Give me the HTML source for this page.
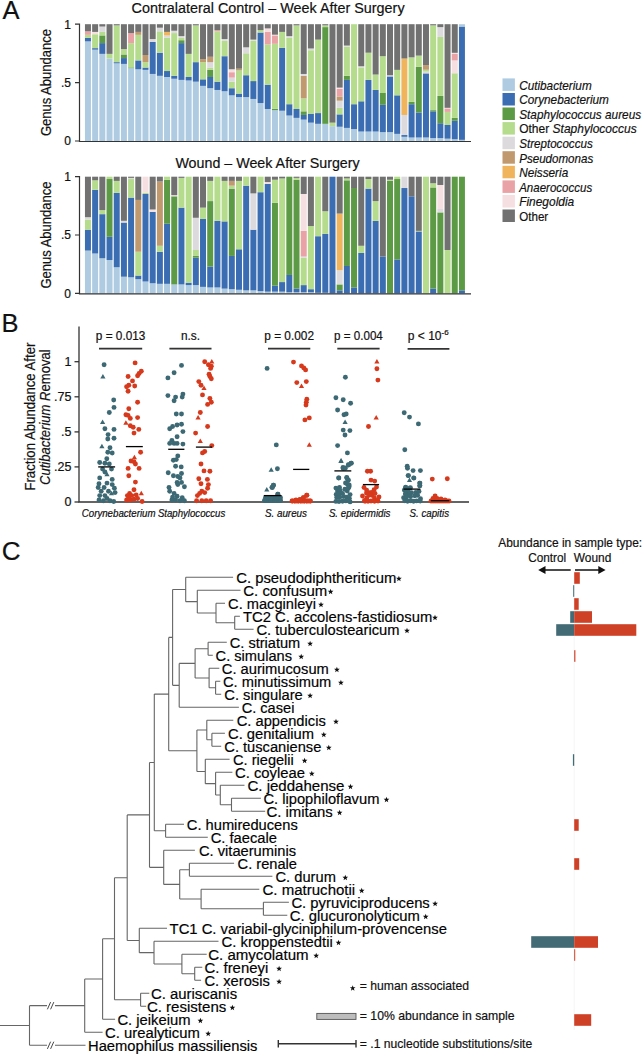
<!DOCTYPE html><html><head><meta charset="utf-8"><style>html,body{margin:0;padding:0;background:#fff;} svg{display:block;} text{font-family:"Liberation Sans", sans-serif;stroke:#111;stroke-width:0.2px;}</style></head><body>
<svg width="643" height="1055" viewBox="0 0 643 1055">
<rect width="643" height="1055" fill="#fff"/>
<text x="2.60" y="19.00" font-size="25.5" text-anchor="start" fill="#111" >A</text>
<text x="131.60" y="13.10" font-size="15.2" text-anchor="start" textLength="273.0" lengthAdjust="spacingAndGlyphs" fill="#111" >Contralateral Control – Week After Surgery</text>
<text x="175.40" y="167.80" font-size="15.2" text-anchor="start" textLength="184.3" lengthAdjust="spacingAndGlyphs" fill="#111" >Wound – Week After Surgery</text>
<rect x="84.95" y="41.37" width="6.0" height="99.63" fill="#aecbe1"/>
<rect x="84.95" y="37.87" width="6.0" height="3.50" fill="#3b6db3"/>
<rect x="84.95" y="34.83" width="6.0" height="3.04" fill="#b5dc8c"/>
<rect x="84.95" y="31.32" width="6.0" height="3.50" fill="#e9a2a5"/>
<rect x="84.95" y="24.20" width="6.0" height="7.12" fill="#717171"/>
<rect x="92.14" y="49.66" width="6.0" height="91.34" fill="#aecbe1"/>
<rect x="92.14" y="48.14" width="6.0" height="1.52" fill="#3b6db3"/>
<rect x="92.14" y="34.24" width="6.0" height="13.90" fill="#b5dc8c"/>
<rect x="92.14" y="31.91" width="6.0" height="2.34" fill="#f6dfe0"/>
<rect x="92.14" y="24.20" width="6.0" height="7.71" fill="#717171"/>
<rect x="99.33" y="53.87" width="6.0" height="87.13" fill="#aecbe1"/>
<rect x="99.33" y="43.12" width="6.0" height="10.75" fill="#3b6db3"/>
<rect x="99.33" y="35.41" width="6.0" height="7.71" fill="#5c9a45"/>
<rect x="99.33" y="31.91" width="6.0" height="3.50" fill="#b5dc8c"/>
<rect x="99.33" y="26.54" width="6.0" height="5.37" fill="#dcdadc"/>
<rect x="99.33" y="24.20" width="6.0" height="2.34" fill="#717171"/>
<rect x="106.53" y="58.54" width="6.0" height="82.46" fill="#aecbe1"/>
<rect x="106.53" y="53.87" width="6.0" height="4.67" fill="#b5dc8c"/>
<rect x="106.53" y="24.20" width="6.0" height="29.67" fill="#717171"/>
<rect x="113.72" y="63.33" width="6.0" height="77.67" fill="#aecbe1"/>
<rect x="113.72" y="62.16" width="6.0" height="1.17" fill="#3b6db3"/>
<rect x="113.72" y="25.37" width="6.0" height="36.79" fill="#b5dc8c"/>
<rect x="113.72" y="24.20" width="6.0" height="1.17" fill="#717171"/>
<rect x="120.91" y="63.91" width="6.0" height="77.09" fill="#aecbe1"/>
<rect x="120.91" y="58.07" width="6.0" height="5.84" fill="#3b6db3"/>
<rect x="120.91" y="54.45" width="6.0" height="3.62" fill="#5c9a45"/>
<rect x="120.91" y="49.08" width="6.0" height="5.37" fill="#b5dc8c"/>
<rect x="120.91" y="24.20" width="6.0" height="24.88" fill="#717171"/>
<rect x="128.10" y="68.12" width="6.0" height="72.88" fill="#aecbe1"/>
<rect x="128.10" y="67.42" width="6.0" height="0.70" fill="#5c9a45"/>
<rect x="128.10" y="43.12" width="6.0" height="24.29" fill="#b5dc8c"/>
<rect x="128.10" y="33.08" width="6.0" height="10.04" fill="#e9a2a5"/>
<rect x="128.10" y="24.20" width="6.0" height="8.88" fill="#717171"/>
<rect x="135.29" y="69.28" width="6.0" height="71.72" fill="#aecbe1"/>
<rect x="135.29" y="60.41" width="6.0" height="8.88" fill="#3b6db3"/>
<rect x="135.29" y="34.83" width="6.0" height="25.58" fill="#b5dc8c"/>
<rect x="135.29" y="31.91" width="6.0" height="2.92" fill="#c09a6e"/>
<rect x="135.29" y="24.20" width="6.0" height="7.71" fill="#717171"/>
<rect x="142.49" y="69.87" width="6.0" height="71.13" fill="#aecbe1"/>
<rect x="142.49" y="67.53" width="6.0" height="2.34" fill="#3b6db3"/>
<rect x="142.49" y="62.16" width="6.0" height="5.37" fill="#b5dc8c"/>
<rect x="142.49" y="55.04" width="6.0" height="7.12" fill="#c09a6e"/>
<rect x="142.49" y="24.20" width="6.0" height="30.84" fill="#717171"/>
<rect x="149.68" y="73.96" width="6.0" height="67.04" fill="#aecbe1"/>
<rect x="149.68" y="41.95" width="6.0" height="32.00" fill="#3b6db3"/>
<rect x="149.68" y="39.03" width="6.0" height="2.92" fill="#dcdadc"/>
<rect x="149.68" y="24.20" width="6.0" height="14.83" fill="#717171"/>
<rect x="156.87" y="75.83" width="6.0" height="65.17" fill="#aecbe1"/>
<rect x="156.87" y="52.70" width="6.0" height="23.13" fill="#3b6db3"/>
<rect x="156.87" y="31.32" width="6.0" height="21.37" fill="#b5dc8c"/>
<rect x="156.87" y="27.70" width="6.0" height="3.62" fill="#dcdadc"/>
<rect x="156.87" y="24.20" width="6.0" height="3.50" fill="#717171"/>
<rect x="164.06" y="76.99" width="6.0" height="64.01" fill="#aecbe1"/>
<rect x="164.06" y="71.04" width="6.0" height="5.96" fill="#3b6db3"/>
<rect x="164.06" y="37.87" width="6.0" height="33.17" fill="#b5dc8c"/>
<rect x="164.06" y="35.41" width="6.0" height="2.45" fill="#dcdadc"/>
<rect x="164.06" y="31.91" width="6.0" height="3.50" fill="#efb45c"/>
<rect x="164.06" y="24.20" width="6.0" height="7.71" fill="#717171"/>
<rect x="171.25" y="78.75" width="6.0" height="62.25" fill="#aecbe1"/>
<rect x="171.25" y="75.83" width="6.0" height="2.92" fill="#3b6db3"/>
<rect x="171.25" y="33.08" width="6.0" height="42.75" fill="#b5dc8c"/>
<rect x="171.25" y="30.74" width="6.0" height="2.34" fill="#dcdadc"/>
<rect x="171.25" y="24.20" width="6.0" height="6.54" fill="#717171"/>
<rect x="178.45" y="79.91" width="6.0" height="61.09" fill="#aecbe1"/>
<rect x="178.45" y="43.12" width="6.0" height="36.79" fill="#3b6db3"/>
<rect x="178.45" y="40.20" width="6.0" height="2.92" fill="#5c9a45"/>
<rect x="178.45" y="37.87" width="6.0" height="2.34" fill="#b5dc8c"/>
<rect x="178.45" y="36.11" width="6.0" height="1.75" fill="#dcdadc"/>
<rect x="178.45" y="24.20" width="6.0" height="11.91" fill="#717171"/>
<rect x="185.64" y="80.50" width="6.0" height="60.50" fill="#aecbe1"/>
<rect x="185.64" y="76.99" width="6.0" height="3.50" fill="#3b6db3"/>
<rect x="185.64" y="53.87" width="6.0" height="23.13" fill="#b5dc8c"/>
<rect x="185.64" y="24.20" width="6.0" height="29.67" fill="#717171"/>
<rect x="192.83" y="81.67" width="6.0" height="59.33" fill="#aecbe1"/>
<rect x="192.83" y="62.16" width="6.0" height="19.51" fill="#3b6db3"/>
<rect x="192.83" y="25.37" width="6.0" height="36.79" fill="#b5dc8c"/>
<rect x="192.83" y="24.20" width="6.0" height="1.17" fill="#717171"/>
<rect x="200.02" y="85.87" width="6.0" height="55.13" fill="#aecbe1"/>
<rect x="200.02" y="79.33" width="6.0" height="6.54" fill="#3b6db3"/>
<rect x="200.02" y="62.16" width="6.0" height="17.17" fill="#b5dc8c"/>
<rect x="200.02" y="59.12" width="6.0" height="3.04" fill="#c09a6e"/>
<rect x="200.02" y="24.20" width="6.0" height="34.92" fill="#717171"/>
<rect x="207.21" y="88.21" width="6.0" height="52.79" fill="#aecbe1"/>
<rect x="207.21" y="76.99" width="6.0" height="11.21" fill="#3b6db3"/>
<rect x="207.21" y="69.87" width="6.0" height="7.12" fill="#5c9a45"/>
<rect x="207.21" y="67.53" width="6.0" height="2.34" fill="#b5dc8c"/>
<rect x="207.21" y="62.16" width="6.0" height="5.37" fill="#dcdadc"/>
<rect x="207.21" y="56.79" width="6.0" height="5.37" fill="#c09a6e"/>
<rect x="207.21" y="24.20" width="6.0" height="32.59" fill="#717171"/>
<rect x="214.41" y="89.96" width="6.0" height="51.04" fill="#aecbe1"/>
<rect x="214.41" y="81.67" width="6.0" height="8.29" fill="#3b6db3"/>
<rect x="214.41" y="31.32" width="6.0" height="50.34" fill="#b5dc8c"/>
<rect x="214.41" y="30.16" width="6.0" height="1.17" fill="#e9a2a5"/>
<rect x="214.41" y="24.20" width="6.0" height="5.96" fill="#717171"/>
<rect x="221.60" y="91.24" width="6.0" height="49.76" fill="#aecbe1"/>
<rect x="221.60" y="56.20" width="6.0" height="35.04" fill="#3b6db3"/>
<rect x="221.60" y="40.79" width="6.0" height="15.42" fill="#b5dc8c"/>
<rect x="221.60" y="39.03" width="6.0" height="1.75" fill="#dcdadc"/>
<rect x="221.60" y="24.20" width="6.0" height="14.83" fill="#717171"/>
<rect x="228.79" y="95.33" width="6.0" height="45.67" fill="#aecbe1"/>
<rect x="228.79" y="88.21" width="6.0" height="7.12" fill="#3b6db3"/>
<rect x="228.79" y="81.67" width="6.0" height="6.54" fill="#b5dc8c"/>
<rect x="228.79" y="77.58" width="6.0" height="4.09" fill="#dcdadc"/>
<rect x="228.79" y="72.20" width="6.0" height="5.37" fill="#e9a2a5"/>
<rect x="228.79" y="69.28" width="6.0" height="2.92" fill="#f6dfe0"/>
<rect x="228.79" y="24.20" width="6.0" height="45.08" fill="#717171"/>
<rect x="235.98" y="97.08" width="6.0" height="43.92" fill="#aecbe1"/>
<rect x="235.98" y="93.58" width="6.0" height="3.50" fill="#3b6db3"/>
<rect x="235.98" y="70.45" width="6.0" height="23.13" fill="#b5dc8c"/>
<rect x="235.98" y="68.70" width="6.0" height="1.75" fill="#c09a6e"/>
<rect x="235.98" y="24.20" width="6.0" height="44.50" fill="#717171"/>
<rect x="243.17" y="97.08" width="6.0" height="43.92" fill="#aecbe1"/>
<rect x="243.17" y="75.24" width="6.0" height="21.84" fill="#3b6db3"/>
<rect x="243.17" y="53.28" width="6.0" height="21.96" fill="#b5dc8c"/>
<rect x="243.17" y="47.33" width="6.0" height="5.96" fill="#dcdadc"/>
<rect x="243.17" y="24.20" width="6.0" height="23.13" fill="#717171"/>
<rect x="250.37" y="98.95" width="6.0" height="42.05" fill="#aecbe1"/>
<rect x="250.37" y="81.08" width="6.0" height="17.87" fill="#3b6db3"/>
<rect x="250.37" y="40.79" width="6.0" height="40.30" fill="#b5dc8c"/>
<rect x="250.37" y="39.62" width="6.0" height="1.17" fill="#dcdadc"/>
<rect x="250.37" y="24.20" width="6.0" height="15.42" fill="#717171"/>
<rect x="257.56" y="103.04" width="6.0" height="37.96" fill="#aecbe1"/>
<rect x="257.56" y="32.49" width="6.0" height="70.55" fill="#3b6db3"/>
<rect x="257.56" y="30.16" width="6.0" height="2.34" fill="#b5dc8c"/>
<rect x="257.56" y="24.20" width="6.0" height="5.96" fill="#717171"/>
<rect x="264.75" y="109.00" width="6.0" height="32.00" fill="#aecbe1"/>
<rect x="264.75" y="84.70" width="6.0" height="24.29" fill="#3b6db3"/>
<rect x="264.75" y="44.41" width="6.0" height="40.30" fill="#b5dc8c"/>
<rect x="264.75" y="31.91" width="6.0" height="12.50" fill="#e9a2a5"/>
<rect x="264.75" y="28.40" width="6.0" height="3.50" fill="#f6dfe0"/>
<rect x="264.75" y="24.20" width="6.0" height="4.20" fill="#717171"/>
<rect x="271.94" y="110.16" width="6.0" height="30.84" fill="#aecbe1"/>
<rect x="271.94" y="108.76" width="6.0" height="1.40" fill="#5c9a45"/>
<rect x="271.94" y="43.82" width="6.0" height="64.94" fill="#b5dc8c"/>
<rect x="271.94" y="35.41" width="6.0" height="8.41" fill="#e9a2a5"/>
<rect x="271.94" y="34.71" width="6.0" height="0.70" fill="#f6dfe0"/>
<rect x="271.94" y="24.20" width="6.0" height="10.51" fill="#717171"/>
<rect x="279.13" y="110.75" width="6.0" height="30.25" fill="#aecbe1"/>
<rect x="279.13" y="47.91" width="6.0" height="62.84" fill="#3b6db3"/>
<rect x="279.13" y="31.91" width="6.0" height="16.00" fill="#b5dc8c"/>
<rect x="279.13" y="24.20" width="6.0" height="7.71" fill="#717171"/>
<rect x="286.33" y="115.54" width="6.0" height="25.46" fill="#aecbe1"/>
<rect x="286.33" y="104.21" width="6.0" height="11.33" fill="#3b6db3"/>
<rect x="286.33" y="37.87" width="6.0" height="66.34" fill="#b5dc8c"/>
<rect x="286.33" y="36.11" width="6.0" height="1.75" fill="#dcdadc"/>
<rect x="286.33" y="24.20" width="6.0" height="11.91" fill="#717171"/>
<rect x="293.52" y="117.87" width="6.0" height="23.13" fill="#aecbe1"/>
<rect x="293.52" y="109.00" width="6.0" height="8.88" fill="#3b6db3"/>
<rect x="293.52" y="25.37" width="6.0" height="83.63" fill="#b5dc8c"/>
<rect x="293.52" y="24.20" width="6.0" height="1.17" fill="#717171"/>
<rect x="300.71" y="119.63" width="6.0" height="21.37" fill="#aecbe1"/>
<rect x="300.71" y="114.95" width="6.0" height="4.67" fill="#3b6db3"/>
<rect x="300.71" y="111.33" width="6.0" height="3.62" fill="#5c9a45"/>
<rect x="300.71" y="98.37" width="6.0" height="12.96" fill="#b5dc8c"/>
<rect x="300.71" y="75.83" width="6.0" height="22.54" fill="#c09a6e"/>
<rect x="300.71" y="73.96" width="6.0" height="1.87" fill="#dcdadc"/>
<rect x="300.71" y="24.20" width="6.0" height="49.76" fill="#717171"/>
<rect x="307.90" y="122.66" width="6.0" height="18.34" fill="#aecbe1"/>
<rect x="307.90" y="113.67" width="6.0" height="8.99" fill="#3b6db3"/>
<rect x="307.90" y="50.25" width="6.0" height="63.42" fill="#b5dc8c"/>
<rect x="307.90" y="48.49" width="6.0" height="1.75" fill="#dcdadc"/>
<rect x="307.90" y="24.20" width="6.0" height="24.29" fill="#717171"/>
<rect x="315.09" y="123.83" width="6.0" height="17.17" fill="#aecbe1"/>
<rect x="315.09" y="113.08" width="6.0" height="10.75" fill="#3b6db3"/>
<rect x="315.09" y="39.62" width="6.0" height="73.47" fill="#b5dc8c"/>
<rect x="315.09" y="24.20" width="6.0" height="15.42" fill="#717171"/>
<rect x="322.29" y="123.83" width="6.0" height="17.17" fill="#aecbe1"/>
<rect x="322.29" y="27.12" width="6.0" height="96.71" fill="#5c9a45"/>
<rect x="322.29" y="25.37" width="6.0" height="1.75" fill="#b5dc8c"/>
<rect x="322.29" y="24.20" width="6.0" height="1.17" fill="#717171"/>
<rect x="329.48" y="126.17" width="6.0" height="14.83" fill="#aecbe1"/>
<rect x="329.48" y="122.66" width="6.0" height="3.50" fill="#b5dc8c"/>
<rect x="329.48" y="24.20" width="6.0" height="98.46" fill="#717171"/>
<rect x="336.67" y="126.75" width="6.0" height="14.25" fill="#aecbe1"/>
<rect x="336.67" y="114.37" width="6.0" height="12.38" fill="#3b6db3"/>
<rect x="336.67" y="107.83" width="6.0" height="6.54" fill="#b5dc8c"/>
<rect x="336.67" y="100.70" width="6.0" height="7.12" fill="#dcdadc"/>
<rect x="336.67" y="96.50" width="6.0" height="4.20" fill="#c09a6e"/>
<rect x="336.67" y="88.79" width="6.0" height="7.71" fill="#e9a2a5"/>
<rect x="336.67" y="87.62" width="6.0" height="1.17" fill="#f6dfe0"/>
<rect x="336.67" y="24.20" width="6.0" height="63.42" fill="#717171"/>
<rect x="343.86" y="127.92" width="6.0" height="13.08" fill="#aecbe1"/>
<rect x="343.86" y="79.91" width="6.0" height="48.00" fill="#3b6db3"/>
<rect x="343.86" y="75.83" width="6.0" height="4.09" fill="#5c9a45"/>
<rect x="343.86" y="46.74" width="6.0" height="29.08" fill="#b5dc8c"/>
<rect x="343.86" y="45.57" width="6.0" height="1.17" fill="#dcdadc"/>
<rect x="343.86" y="24.20" width="6.0" height="21.37" fill="#717171"/>
<rect x="351.05" y="129.09" width="6.0" height="11.91" fill="#aecbe1"/>
<rect x="351.05" y="104.21" width="6.0" height="24.88" fill="#3b6db3"/>
<rect x="351.05" y="24.20" width="6.0" height="80.01" fill="#b5dc8c"/>
<rect x="358.25" y="131.54" width="6.0" height="9.46" fill="#aecbe1"/>
<rect x="358.25" y="101.29" width="6.0" height="30.25" fill="#3b6db3"/>
<rect x="358.25" y="67.42" width="6.0" height="33.87" fill="#b5dc8c"/>
<rect x="358.25" y="66.25" width="6.0" height="1.17" fill="#dcdadc"/>
<rect x="358.25" y="24.20" width="6.0" height="42.05" fill="#717171"/>
<rect x="365.44" y="131.54" width="6.0" height="9.46" fill="#aecbe1"/>
<rect x="365.44" y="79.91" width="6.0" height="51.63" fill="#3b6db3"/>
<rect x="365.44" y="52.70" width="6.0" height="27.21" fill="#b5dc8c"/>
<rect x="365.44" y="24.20" width="6.0" height="28.50" fill="#717171"/>
<rect x="372.63" y="131.54" width="6.0" height="9.46" fill="#aecbe1"/>
<rect x="372.63" y="89.96" width="6.0" height="41.58" fill="#3b6db3"/>
<rect x="372.63" y="74.54" width="6.0" height="15.42" fill="#b5dc8c"/>
<rect x="372.63" y="24.20" width="6.0" height="50.34" fill="#717171"/>
<rect x="379.82" y="132.12" width="6.0" height="8.88" fill="#aecbe1"/>
<rect x="379.82" y="104.79" width="6.0" height="27.33" fill="#3b6db3"/>
<rect x="379.82" y="93.00" width="6.0" height="11.80" fill="#5c9a45"/>
<rect x="379.82" y="56.20" width="6.0" height="36.79" fill="#b5dc8c"/>
<rect x="379.82" y="24.20" width="6.0" height="32.00" fill="#717171"/>
<rect x="387.01" y="132.12" width="6.0" height="8.88" fill="#aecbe1"/>
<rect x="387.01" y="76.41" width="6.0" height="55.71" fill="#3b6db3"/>
<rect x="387.01" y="75.24" width="6.0" height="1.17" fill="#dcdadc"/>
<rect x="387.01" y="24.20" width="6.0" height="51.04" fill="#717171"/>
<rect x="394.21" y="133.88" width="6.0" height="7.12" fill="#aecbe1"/>
<rect x="394.21" y="95.33" width="6.0" height="38.54" fill="#3b6db3"/>
<rect x="394.21" y="69.87" width="6.0" height="25.46" fill="#b5dc8c"/>
<rect x="394.21" y="24.20" width="6.0" height="45.67" fill="#717171"/>
<rect x="401.40" y="136.80" width="6.0" height="4.20" fill="#aecbe1"/>
<rect x="401.40" y="135.04" width="6.0" height="1.75" fill="#3b6db3"/>
<rect x="401.40" y="114.95" width="6.0" height="20.09" fill="#dcdadc"/>
<rect x="401.40" y="58.54" width="6.0" height="56.41" fill="#efb45c"/>
<rect x="401.40" y="24.20" width="6.0" height="34.34" fill="#717171"/>
<rect x="408.59" y="137.50" width="6.0" height="3.50" fill="#aecbe1"/>
<rect x="408.59" y="104.21" width="6.0" height="33.29" fill="#3b6db3"/>
<rect x="408.59" y="101.87" width="6.0" height="2.34" fill="#5c9a45"/>
<rect x="408.59" y="57.37" width="6.0" height="44.50" fill="#b5dc8c"/>
<rect x="408.59" y="24.20" width="6.0" height="33.17" fill="#717171"/>
<rect x="415.78" y="137.50" width="6.0" height="3.50" fill="#aecbe1"/>
<rect x="415.78" y="112.50" width="6.0" height="25.00" fill="#3b6db3"/>
<rect x="415.78" y="66.83" width="6.0" height="45.67" fill="#5c9a45"/>
<rect x="415.78" y="55.62" width="6.0" height="11.21" fill="#b5dc8c"/>
<rect x="415.78" y="24.20" width="6.0" height="31.42" fill="#717171"/>
<rect x="422.97" y="137.50" width="6.0" height="3.50" fill="#aecbe1"/>
<rect x="422.97" y="73.37" width="6.0" height="64.12" fill="#3b6db3"/>
<rect x="422.97" y="71.62" width="6.0" height="1.75" fill="#dcdadc"/>
<rect x="422.97" y="69.75" width="6.0" height="1.87" fill="#b5dc8c"/>
<rect x="422.97" y="65.08" width="6.0" height="4.67" fill="#c09a6e"/>
<rect x="422.97" y="24.20" width="6.0" height="40.88" fill="#717171"/>
<rect x="430.17" y="138.08" width="6.0" height="2.92" fill="#aecbe1"/>
<rect x="430.17" y="111.33" width="6.0" height="26.75" fill="#3b6db3"/>
<rect x="430.17" y="110.16" width="6.0" height="1.17" fill="#5c9a45"/>
<rect x="430.17" y="25.37" width="6.0" height="84.80" fill="#b5dc8c"/>
<rect x="430.17" y="24.20" width="6.0" height="1.17" fill="#717171"/>
<rect x="437.36" y="138.08" width="6.0" height="2.92" fill="#aecbe1"/>
<rect x="437.36" y="123.25" width="6.0" height="14.83" fill="#3b6db3"/>
<rect x="437.36" y="95.92" width="6.0" height="27.33" fill="#5c9a45"/>
<rect x="437.36" y="36.93" width="6.0" height="58.98" fill="#b5dc8c"/>
<rect x="437.36" y="27.12" width="6.0" height="9.81" fill="#dcdadc"/>
<rect x="437.36" y="24.20" width="6.0" height="2.92" fill="#717171"/>
<rect x="444.55" y="138.66" width="6.0" height="2.34" fill="#aecbe1"/>
<rect x="444.55" y="125.00" width="6.0" height="13.67" fill="#3b6db3"/>
<rect x="444.55" y="111.92" width="6.0" height="13.08" fill="#b5dc8c"/>
<rect x="444.55" y="108.41" width="6.0" height="3.50" fill="#e9a2a5"/>
<rect x="444.55" y="107.83" width="6.0" height="0.58" fill="#f6dfe0"/>
<rect x="444.55" y="24.20" width="6.0" height="83.63" fill="#717171"/>
<rect x="451.74" y="139.25" width="6.0" height="1.75" fill="#aecbe1"/>
<rect x="451.74" y="120.79" width="6.0" height="18.45" fill="#3b6db3"/>
<rect x="451.74" y="117.87" width="6.0" height="2.92" fill="#5c9a45"/>
<rect x="451.74" y="73.26" width="6.0" height="44.62" fill="#b5dc8c"/>
<rect x="451.74" y="60.41" width="6.0" height="12.85" fill="#f6dfe0"/>
<rect x="451.74" y="53.98" width="6.0" height="6.42" fill="#e9a2a5"/>
<rect x="451.74" y="52.82" width="6.0" height="1.17" fill="#f6dfe0"/>
<rect x="451.74" y="24.20" width="6.0" height="28.62" fill="#717171"/>
<rect x="458.93" y="139.83" width="6.0" height="1.17" fill="#aecbe1"/>
<rect x="458.93" y="26.54" width="6.0" height="113.30" fill="#3b6db3"/>
<rect x="458.93" y="24.20" width="6.0" height="2.34" fill="#aecbe1"/>
<path d="M75 24.2 H79.5 V141.5 H471" fill="none" stroke="#333" stroke-width="1.2"/>
<path d="M75 82.6 H79.5 M75 141.0 H79.5" stroke="#333" stroke-width="1.2"/>
<text x="71.00" y="28.50" font-size="12" text-anchor="end" fill="#111" >1</text>
<text x="71.00" y="86.90" font-size="12" text-anchor="end" fill="#111" >.5</text>
<text x="71.00" y="145.30" font-size="12" text-anchor="end" fill="#111" >0</text>
<text x="0" y="0" font-size="14" text-anchor="middle" fill="#111" textLength="107" lengthAdjust="spacingAndGlyphs" transform="translate(50.8 82.6) rotate(-90)">Genus Abundance</text>
<rect x="84.95" y="250.57" width="6.0" height="42.83" fill="#aecbe1"/>
<rect x="84.95" y="229.68" width="6.0" height="20.89" fill="#3b6db3"/>
<rect x="84.95" y="219.53" width="6.0" height="10.15" fill="#b5dc8c"/>
<rect x="84.95" y="217.19" width="6.0" height="2.33" fill="#dcdadc"/>
<rect x="84.95" y="176.70" width="6.0" height="40.49" fill="#717171"/>
<rect x="92.14" y="253.49" width="6.0" height="39.91" fill="#aecbe1"/>
<rect x="92.14" y="189.77" width="6.0" height="63.72" fill="#3b6db3"/>
<rect x="92.14" y="180.32" width="6.0" height="9.45" fill="#b5dc8c"/>
<rect x="92.14" y="176.70" width="6.0" height="3.62" fill="#717171"/>
<rect x="99.33" y="258.27" width="6.0" height="35.13" fill="#aecbe1"/>
<rect x="99.33" y="214.16" width="6.0" height="44.11" fill="#3b6db3"/>
<rect x="99.33" y="210.08" width="6.0" height="4.08" fill="#b5dc8c"/>
<rect x="99.33" y="176.70" width="6.0" height="33.38" fill="#717171"/>
<rect x="106.53" y="260.02" width="6.0" height="33.38" fill="#aecbe1"/>
<rect x="106.53" y="236.80" width="6.0" height="23.22" fill="#3b6db3"/>
<rect x="106.53" y="179.03" width="6.0" height="57.77" fill="#5c9a45"/>
<rect x="106.53" y="176.70" width="6.0" height="2.33" fill="#b5dc8c"/>
<rect x="113.72" y="267.26" width="6.0" height="26.14" fill="#aecbe1"/>
<rect x="113.72" y="192.80" width="6.0" height="74.45" fill="#3b6db3"/>
<rect x="113.72" y="180.90" width="6.0" height="11.90" fill="#b5dc8c"/>
<rect x="113.72" y="176.70" width="6.0" height="4.20" fill="#717171"/>
<rect x="120.91" y="276.71" width="6.0" height="16.69" fill="#aecbe1"/>
<rect x="120.91" y="222.56" width="6.0" height="54.15" fill="#3b6db3"/>
<rect x="120.91" y="220.81" width="6.0" height="1.75" fill="#dcdadc"/>
<rect x="120.91" y="176.70" width="6.0" height="44.11" fill="#717171"/>
<rect x="128.10" y="277.30" width="6.0" height="16.10" fill="#aecbe1"/>
<rect x="128.10" y="197.59" width="6.0" height="79.71" fill="#3b6db3"/>
<rect x="128.10" y="179.03" width="6.0" height="18.56" fill="#b5dc8c"/>
<rect x="128.10" y="177.87" width="6.0" height="1.17" fill="#dcdadc"/>
<rect x="128.10" y="176.70" width="6.0" height="1.17" fill="#717171"/>
<rect x="135.29" y="279.16" width="6.0" height="14.24" fill="#aecbe1"/>
<rect x="135.29" y="275.54" width="6.0" height="3.62" fill="#3b6db3"/>
<rect x="135.29" y="251.74" width="6.0" height="23.81" fill="#b5dc8c"/>
<rect x="135.29" y="199.92" width="6.0" height="51.81" fill="#c09a6e"/>
<rect x="135.29" y="176.70" width="6.0" height="23.22" fill="#717171"/>
<rect x="142.49" y="281.50" width="6.0" height="11.90" fill="#aecbe1"/>
<rect x="142.49" y="193.97" width="6.0" height="87.53" fill="#3b6db3"/>
<rect x="142.49" y="192.80" width="6.0" height="1.17" fill="#b5dc8c"/>
<rect x="142.49" y="176.70" width="6.0" height="16.10" fill="#f6dfe0"/>
<rect x="149.68" y="283.25" width="6.0" height="10.15" fill="#aecbe1"/>
<rect x="149.68" y="211.83" width="6.0" height="71.42" fill="#3b6db3"/>
<rect x="149.68" y="209.49" width="6.0" height="2.33" fill="#f6dfe0"/>
<rect x="149.68" y="176.70" width="6.0" height="32.79" fill="#717171"/>
<rect x="156.87" y="283.83" width="6.0" height="9.57" fill="#aecbe1"/>
<rect x="156.87" y="251.74" width="6.0" height="32.09" fill="#3b6db3"/>
<rect x="156.87" y="245.79" width="6.0" height="5.95" fill="#b5dc8c"/>
<rect x="156.87" y="181.48" width="6.0" height="64.30" fill="#c09a6e"/>
<rect x="156.87" y="176.70" width="6.0" height="4.78" fill="#717171"/>
<rect x="164.06" y="283.83" width="6.0" height="9.57" fill="#aecbe1"/>
<rect x="164.06" y="223.73" width="6.0" height="60.10" fill="#3b6db3"/>
<rect x="164.06" y="179.73" width="6.0" height="44.00" fill="#5c9a45"/>
<rect x="164.06" y="176.70" width="6.0" height="3.03" fill="#b5dc8c"/>
<rect x="171.25" y="284.41" width="6.0" height="8.99" fill="#aecbe1"/>
<rect x="171.25" y="196.31" width="6.0" height="88.11" fill="#5c9a45"/>
<rect x="171.25" y="195.14" width="6.0" height="1.17" fill="#f6dfe0"/>
<rect x="171.25" y="176.70" width="6.0" height="18.44" fill="#717171"/>
<rect x="178.45" y="284.41" width="6.0" height="8.99" fill="#aecbe1"/>
<rect x="178.45" y="207.63" width="6.0" height="76.79" fill="#3b6db3"/>
<rect x="178.45" y="177.87" width="6.0" height="29.76" fill="#b5dc8c"/>
<rect x="178.45" y="176.70" width="6.0" height="1.17" fill="#717171"/>
<rect x="185.64" y="285.11" width="6.0" height="8.29" fill="#aecbe1"/>
<rect x="185.64" y="282.66" width="6.0" height="2.45" fill="#3b6db3"/>
<rect x="185.64" y="176.70" width="6.0" height="105.96" fill="#b5dc8c"/>
<rect x="192.83" y="285.11" width="6.0" height="8.29" fill="#aecbe1"/>
<rect x="192.83" y="257.69" width="6.0" height="27.42" fill="#3b6db3"/>
<rect x="192.83" y="255.94" width="6.0" height="1.75" fill="#5c9a45"/>
<rect x="192.83" y="249.99" width="6.0" height="5.95" fill="#b5dc8c"/>
<rect x="192.83" y="217.78" width="6.0" height="32.21" fill="#dcdadc"/>
<rect x="192.83" y="176.70" width="6.0" height="41.08" fill="#717171"/>
<rect x="200.02" y="286.86" width="6.0" height="6.54" fill="#aecbe1"/>
<rect x="200.02" y="218.95" width="6.0" height="67.92" fill="#3b6db3"/>
<rect x="200.02" y="207.63" width="6.0" height="11.32" fill="#b5dc8c"/>
<rect x="200.02" y="176.70" width="6.0" height="30.93" fill="#717171"/>
<rect x="207.21" y="287.45" width="6.0" height="5.95" fill="#aecbe1"/>
<rect x="207.21" y="266.56" width="6.0" height="20.89" fill="#3b6db3"/>
<rect x="207.21" y="201.09" width="6.0" height="65.47" fill="#5c9a45"/>
<rect x="207.21" y="180.90" width="6.0" height="20.19" fill="#b5dc8c"/>
<rect x="207.21" y="176.70" width="6.0" height="4.20" fill="#717171"/>
<rect x="214.41" y="287.45" width="6.0" height="5.95" fill="#aecbe1"/>
<rect x="214.41" y="220.81" width="6.0" height="66.64" fill="#3b6db3"/>
<rect x="214.41" y="176.70" width="6.0" height="44.11" fill="#b5dc8c"/>
<rect x="221.60" y="288.62" width="6.0" height="4.78" fill="#aecbe1"/>
<rect x="221.60" y="221.40" width="6.0" height="67.22" fill="#3b6db3"/>
<rect x="221.60" y="180.90" width="6.0" height="40.49" fill="#b5dc8c"/>
<rect x="221.60" y="176.70" width="6.0" height="4.20" fill="#717171"/>
<rect x="228.79" y="289.20" width="6.0" height="4.20" fill="#aecbe1"/>
<rect x="228.79" y="255.94" width="6.0" height="33.26" fill="#3b6db3"/>
<rect x="228.79" y="188.60" width="6.0" height="67.34" fill="#5c9a45"/>
<rect x="228.79" y="185.69" width="6.0" height="2.92" fill="#b5dc8c"/>
<rect x="228.79" y="180.90" width="6.0" height="4.78" fill="#c09a6e"/>
<rect x="228.79" y="176.70" width="6.0" height="4.20" fill="#717171"/>
<rect x="235.98" y="289.78" width="6.0" height="3.62" fill="#aecbe1"/>
<rect x="235.98" y="249.29" width="6.0" height="40.49" fill="#3b6db3"/>
<rect x="235.98" y="180.90" width="6.0" height="68.39" fill="#b5dc8c"/>
<rect x="235.98" y="176.70" width="6.0" height="4.20" fill="#717171"/>
<rect x="243.17" y="290.37" width="6.0" height="3.03" fill="#aecbe1"/>
<rect x="243.17" y="185.69" width="6.0" height="104.68" fill="#3b6db3"/>
<rect x="243.17" y="176.70" width="6.0" height="8.99" fill="#b5dc8c"/>
<rect x="250.37" y="290.37" width="6.0" height="3.03" fill="#aecbe1"/>
<rect x="250.37" y="229.68" width="6.0" height="60.68" fill="#3b6db3"/>
<rect x="250.37" y="193.39" width="6.0" height="36.29" fill="#dcdadc"/>
<rect x="250.37" y="176.70" width="6.0" height="16.69" fill="#717171"/>
<rect x="257.56" y="291.07" width="6.0" height="2.33" fill="#aecbe1"/>
<rect x="257.56" y="192.22" width="6.0" height="98.84" fill="#3b6db3"/>
<rect x="257.56" y="176.70" width="6.0" height="15.52" fill="#b5dc8c"/>
<rect x="264.75" y="291.65" width="6.0" height="1.75" fill="#aecbe1"/>
<rect x="264.75" y="183.82" width="6.0" height="107.83" fill="#3b6db3"/>
<rect x="264.75" y="182.07" width="6.0" height="1.75" fill="#f6dfe0"/>
<rect x="264.75" y="176.70" width="6.0" height="5.37" fill="#717171"/>
<rect x="271.94" y="291.65" width="6.0" height="1.75" fill="#aecbe1"/>
<rect x="271.94" y="285.70" width="6.0" height="5.95" fill="#3b6db3"/>
<rect x="271.94" y="202.84" width="6.0" height="82.86" fill="#5c9a45"/>
<rect x="271.94" y="179.73" width="6.0" height="23.11" fill="#b5dc8c"/>
<rect x="271.94" y="176.70" width="6.0" height="3.03" fill="#717171"/>
<rect x="279.13" y="291.65" width="6.0" height="1.75" fill="#aecbe1"/>
<rect x="279.13" y="282.08" width="6.0" height="9.57" fill="#3b6db3"/>
<rect x="279.13" y="178.45" width="6.0" height="103.63" fill="#b5dc8c"/>
<rect x="279.13" y="176.70" width="6.0" height="1.75" fill="#717171"/>
<rect x="286.33" y="292.23" width="6.0" height="1.17" fill="#aecbe1"/>
<rect x="286.33" y="274.96" width="6.0" height="17.27" fill="#3b6db3"/>
<rect x="286.33" y="176.70" width="6.0" height="98.26" fill="#5c9a45"/>
<rect x="293.52" y="292.23" width="6.0" height="1.17" fill="#aecbe1"/>
<rect x="293.52" y="288.62" width="6.0" height="3.62" fill="#3b6db3"/>
<rect x="293.52" y="179.73" width="6.0" height="108.88" fill="#5c9a45"/>
<rect x="293.52" y="177.87" width="6.0" height="1.87" fill="#b5dc8c"/>
<rect x="293.52" y="176.70" width="6.0" height="1.17" fill="#717171"/>
<rect x="300.71" y="292.23" width="6.0" height="1.17" fill="#aecbe1"/>
<rect x="300.71" y="285.11" width="6.0" height="7.12" fill="#3b6db3"/>
<rect x="300.71" y="257.69" width="6.0" height="27.42" fill="#b5dc8c"/>
<rect x="300.71" y="256.52" width="6.0" height="1.17" fill="#dcdadc"/>
<rect x="300.71" y="230.85" width="6.0" height="25.67" fill="#e9a2a5"/>
<rect x="300.71" y="193.97" width="6.0" height="36.88" fill="#f6dfe0"/>
<rect x="300.71" y="176.70" width="6.0" height="17.27" fill="#717171"/>
<rect x="307.90" y="292.23" width="6.0" height="1.17" fill="#aecbe1"/>
<rect x="307.90" y="289.20" width="6.0" height="3.03" fill="#3b6db3"/>
<rect x="307.90" y="226.06" width="6.0" height="63.13" fill="#b5dc8c"/>
<rect x="307.90" y="176.70" width="6.0" height="49.36" fill="#717171"/>
<rect x="315.09" y="292.82" width="6.0" height="0.58" fill="#aecbe1"/>
<rect x="315.09" y="236.22" width="6.0" height="56.60" fill="#3b6db3"/>
<rect x="315.09" y="176.70" width="6.0" height="59.52" fill="#b5dc8c"/>
<rect x="322.29" y="292.82" width="6.0" height="0.58" fill="#aecbe1"/>
<rect x="322.29" y="233.88" width="6.0" height="58.93" fill="#3b6db3"/>
<rect x="322.29" y="211.24" width="6.0" height="22.64" fill="#b5dc8c"/>
<rect x="322.29" y="176.70" width="6.0" height="34.54" fill="#717171"/>
<rect x="329.48" y="176.70" width="6.0" height="116.70" fill="#3b6db3"/>
<rect x="336.67" y="290.37" width="6.0" height="3.03" fill="#3b6db3"/>
<rect x="336.67" y="284.41" width="6.0" height="5.95" fill="#5c9a45"/>
<rect x="336.67" y="270.18" width="6.0" height="14.24" fill="#dcdadc"/>
<rect x="336.67" y="213.58" width="6.0" height="56.60" fill="#efb45c"/>
<rect x="336.67" y="176.70" width="6.0" height="36.88" fill="#717171"/>
<rect x="343.86" y="265.98" width="6.0" height="27.42" fill="#3b6db3"/>
<rect x="343.86" y="180.32" width="6.0" height="85.66" fill="#5c9a45"/>
<rect x="343.86" y="178.45" width="6.0" height="1.87" fill="#b5dc8c"/>
<rect x="343.86" y="176.70" width="6.0" height="1.75" fill="#717171"/>
<rect x="351.05" y="287.45" width="6.0" height="5.95" fill="#3b6db3"/>
<rect x="351.05" y="188.02" width="6.0" height="99.43" fill="#5c9a45"/>
<rect x="351.05" y="176.70" width="6.0" height="11.32" fill="#717171"/>
<rect x="358.25" y="252.91" width="6.0" height="40.49" fill="#3b6db3"/>
<rect x="358.25" y="245.79" width="6.0" height="7.12" fill="#b5dc8c"/>
<rect x="358.25" y="176.70" width="6.0" height="69.09" fill="#717171"/>
<rect x="365.44" y="188.60" width="6.0" height="104.80" fill="#3b6db3"/>
<rect x="365.44" y="179.03" width="6.0" height="9.57" fill="#b5dc8c"/>
<rect x="365.44" y="176.70" width="6.0" height="2.33" fill="#717171"/>
<rect x="372.63" y="220.81" width="6.0" height="72.59" fill="#3b6db3"/>
<rect x="372.63" y="201.09" width="6.0" height="19.72" fill="#b5dc8c"/>
<rect x="372.63" y="176.70" width="6.0" height="24.39" fill="#717171"/>
<rect x="379.82" y="256.52" width="6.0" height="36.88" fill="#3b6db3"/>
<rect x="379.82" y="176.70" width="6.0" height="79.82" fill="#717171"/>
<rect x="387.01" y="180.90" width="6.0" height="112.50" fill="#5c9a45"/>
<rect x="387.01" y="179.73" width="6.0" height="1.17" fill="#b5dc8c"/>
<rect x="387.01" y="176.70" width="6.0" height="3.03" fill="#717171"/>
<rect x="394.21" y="259.44" width="6.0" height="33.96" fill="#3b6db3"/>
<rect x="394.21" y="179.03" width="6.0" height="80.41" fill="#5c9a45"/>
<rect x="394.21" y="176.70" width="6.0" height="2.33" fill="#b5dc8c"/>
<rect x="401.40" y="188.02" width="6.0" height="105.38" fill="#3b6db3"/>
<rect x="401.40" y="176.70" width="6.0" height="11.32" fill="#dcdadc"/>
<rect x="408.59" y="196.31" width="6.0" height="97.09" fill="#3b6db3"/>
<rect x="408.59" y="176.70" width="6.0" height="19.61" fill="#717171"/>
<rect x="415.78" y="231.43" width="6.0" height="61.97" fill="#3b6db3"/>
<rect x="415.78" y="230.85" width="6.0" height="0.58" fill="#b5dc8c"/>
<rect x="415.78" y="176.70" width="6.0" height="54.15" fill="#717171"/>
<rect x="422.97" y="176.70" width="6.0" height="116.70" fill="#b5dc8c"/>
<rect x="430.17" y="288.62" width="6.0" height="4.78" fill="#3b6db3"/>
<rect x="430.17" y="187.44" width="6.0" height="101.18" fill="#5c9a45"/>
<rect x="430.17" y="183.24" width="6.0" height="4.20" fill="#b5dc8c"/>
<rect x="430.17" y="176.70" width="6.0" height="6.54" fill="#717171"/>
<rect x="437.36" y="212.41" width="6.0" height="80.99" fill="#5c9a45"/>
<rect x="437.36" y="208.91" width="6.0" height="3.50" fill="#dcdadc"/>
<rect x="437.36" y="184.99" width="6.0" height="23.92" fill="#f6dfe0"/>
<rect x="437.36" y="176.70" width="6.0" height="8.29" fill="#717171"/>
<rect x="444.55" y="249.99" width="6.0" height="43.41" fill="#b5dc8c"/>
<rect x="444.55" y="176.70" width="6.0" height="73.29" fill="#717171"/>
<rect x="451.74" y="176.70" width="6.0" height="116.70" fill="#5c9a45"/>
<rect x="458.93" y="290.37" width="6.0" height="3.03" fill="#3b6db3"/>
<rect x="458.93" y="176.70" width="6.0" height="113.67" fill="#5c9a45"/>
<path d="M75 176.7 H79.5 V293.9 H471" fill="none" stroke="#333" stroke-width="1.2"/>
<path d="M75 235.0 H79.5 M75 293.4 H79.5" stroke="#333" stroke-width="1.2"/>
<text x="71.00" y="181.00" font-size="12" text-anchor="end" fill="#111" >1</text>
<text x="71.00" y="239.35" font-size="12" text-anchor="end" fill="#111" >.5</text>
<text x="71.00" y="297.70" font-size="12" text-anchor="end" fill="#111" >0</text>
<text x="0" y="0" font-size="14" text-anchor="middle" fill="#111" textLength="107" lengthAdjust="spacingAndGlyphs" transform="translate(50.8 235.0) rotate(-90)">Genus Abundance</text>
<rect x="502.5" y="78.4" width="12.4" height="12.5" fill="#aecbe1"/>
<text x="519.20" y="89.70" font-size="13.2" text-anchor="start" textLength="72.5" lengthAdjust="spacingAndGlyphs" fill="#111" ><tspan font-style="italic">Cutibacterium</tspan></text>
<rect x="502.5" y="93.0" width="12.4" height="12.5" fill="#3b6db3"/>
<text x="519.20" y="104.27" font-size="13.2" text-anchor="start" textLength="89.7" lengthAdjust="spacingAndGlyphs" fill="#111" ><tspan font-style="italic">Corynebacterium</tspan></text>
<rect x="502.5" y="107.5" width="12.4" height="12.5" fill="#5c9a45"/>
<text x="519.20" y="118.84" font-size="13.2" text-anchor="start" textLength="121.9" lengthAdjust="spacingAndGlyphs" fill="#111" ><tspan font-style="italic">Staphylococcus aureus</tspan></text>
<rect x="502.5" y="122.1" width="12.4" height="12.5" fill="#b5dc8c"/>
<text x="519.20" y="133.41" font-size="13.2" text-anchor="start" textLength="117.5" lengthAdjust="spacingAndGlyphs" fill="#111" >Other <tspan font-style="italic">Staphylococcus</tspan></text>
<rect x="502.5" y="136.7" width="12.4" height="12.5" fill="#dcdadc"/>
<text x="519.20" y="147.98" font-size="13.2" text-anchor="start" textLength="73.5" lengthAdjust="spacingAndGlyphs" fill="#111" ><tspan font-style="italic">Streptococcus</tspan></text>
<rect x="502.5" y="151.2" width="12.4" height="12.5" fill="#c09a6e"/>
<text x="519.20" y="162.55" font-size="13.2" text-anchor="start" textLength="74.0" lengthAdjust="spacingAndGlyphs" fill="#111" ><tspan font-style="italic">Pseudomonas</tspan></text>
<rect x="502.5" y="165.8" width="12.4" height="12.5" fill="#efb45c"/>
<text x="519.20" y="177.12" font-size="13.2" text-anchor="start" textLength="49.0" lengthAdjust="spacingAndGlyphs" fill="#111" ><tspan font-style="italic">Neisseria</tspan></text>
<rect x="502.5" y="180.4" width="12.4" height="12.5" fill="#e9a2a5"/>
<text x="519.20" y="191.69" font-size="13.2" text-anchor="start" textLength="73.0" lengthAdjust="spacingAndGlyphs" fill="#111" ><tspan font-style="italic">Anaerococcus</tspan></text>
<rect x="502.5" y="195.0" width="12.4" height="12.5" fill="#f6dfe0"/>
<text x="519.20" y="206.26" font-size="13.2" text-anchor="start" textLength="55.0" lengthAdjust="spacingAndGlyphs" fill="#111" ><tspan font-style="italic">Finegoldia</tspan></text>
<rect x="502.5" y="209.5" width="12.4" height="12.5" fill="#717171"/>
<text x="519.20" y="220.83" font-size="13.2" text-anchor="start" textLength="29.0" lengthAdjust="spacingAndGlyphs" fill="#111" >Other</text>
<text x="1.40" y="331.90" font-size="25.5" text-anchor="start" fill="#111" >B</text>
<path d="M79 326.5 V502 H469" fill="none" stroke="#333" stroke-width="1.3"/>
<path d="M74.5 361.7 H79" stroke="#333" stroke-width="1.3"/>
<text x="71.50" y="366.00" font-size="12.5" text-anchor="end" fill="#111" >1</text>
<path d="M74.5 396.8 H79" stroke="#333" stroke-width="1.3"/>
<text x="71.50" y="401.07" font-size="12.5" text-anchor="end" fill="#111" >.75</text>
<path d="M74.5 431.9 H79" stroke="#333" stroke-width="1.3"/>
<text x="71.50" y="436.15" font-size="12.5" text-anchor="end" fill="#111" >.5</text>
<path d="M74.5 466.9 H79" stroke="#333" stroke-width="1.3"/>
<text x="71.50" y="471.23" font-size="12.5" text-anchor="end" fill="#111" >.25</text>
<path d="M74.5 502.0 H79" stroke="#333" stroke-width="1.3"/>
<text x="71.50" y="506.30" font-size="12.5" text-anchor="end" fill="#111" >0</text>
<text x="0" y="0" font-size="13.8" text-anchor="middle" fill="#111" transform="translate(34.5 416.6) rotate(-90)" textLength="148" lengthAdjust="spacingAndGlyphs">Fraction Abundance After</text>
<text x="0" y="0" font-size="13.8" text-anchor="middle" fill="#111" transform="translate(50.3 417.2) rotate(-90)" textLength="135.6" lengthAdjust="spacingAndGlyphs"><tspan font-style="italic">Cutibacterium</tspan> <tspan font-style="italic">R</tspan>emoval</text>
<path d="M99 348.6 H142.2" stroke="#333" stroke-width="1.6"/>
<text x="120.60" y="340.10" font-size="12" text-anchor="middle" textLength="49.5" lengthAdjust="spacingAndGlyphs" fill="#111" >p = 0.013</text>
<path d="M169.4 348.6 H211.5" stroke="#333" stroke-width="1.6"/>
<text x="190.45" y="340.10" font-size="12" text-anchor="middle" textLength="19.1" lengthAdjust="spacingAndGlyphs" fill="#111" >n.s.</text>
<path d="M268 348.6 H310.3" stroke="#333" stroke-width="1.6"/>
<text x="289.15" y="340.10" font-size="12" text-anchor="middle" textLength="49.7" lengthAdjust="spacingAndGlyphs" fill="#111" >p = 0.002</text>
<path d="M337.3 348.6 H379.6" stroke="#333" stroke-width="1.6"/>
<text x="358.45" y="340.10" font-size="12" text-anchor="middle" textLength="48.7" lengthAdjust="spacingAndGlyphs" fill="#111" >p = 0.004</text>
<path d="M407.6 348.9 H449.4" stroke="#333" stroke-width="1.6"/>
<text x="407.8" y="340.1" font-size="12" fill="#111">p &lt; 10<tspan font-size="8" dy="-5">-6</tspan></text>
<text x="81.80" y="517.20" font-size="10.2" text-anchor="start" font-style="italic" textLength="73.7" lengthAdjust="spacingAndGlyphs" fill="#111" >Corynebacterium</text>
<text x="157.90" y="517.20" font-size="10.2" text-anchor="start" font-style="italic" textLength="67.4" lengthAdjust="spacingAndGlyphs" fill="#111" >Staphylococcus</text>
<text x="264.90" y="517.20" font-size="10.2" text-anchor="start" font-style="italic" textLength="42.1" lengthAdjust="spacingAndGlyphs" fill="#111" >S. aureus</text>
<text x="328.90" y="517.20" font-size="10.2" text-anchor="start" font-style="italic" textLength="61.6" lengthAdjust="spacingAndGlyphs" fill="#111" >S. epidermidis</text>
<text x="409.60" y="517.20" font-size="10.2" text-anchor="start" font-style="italic" textLength="39.4" lengthAdjust="spacingAndGlyphs" fill="#111" >S. capitis</text>
<circle cx="104.1" cy="364.7" r="2.45" fill="#3c6974"/>
<path d="M102.9 373.9 L105.5 378.4 L100.3 378.4Z" fill="#3c6974"/>
<circle cx="113.7" cy="400.0" r="2.45" fill="#3c6974"/>
<circle cx="114.0" cy="407.4" r="2.45" fill="#3c6974"/>
<circle cx="109.3" cy="412.5" r="2.45" fill="#3c6974"/>
<path d="M102.6 419.4 L105.2 423.9 L100.0 423.9Z" fill="#3c6974"/>
<circle cx="104.9" cy="428.7" r="2.45" fill="#3c6974"/>
<circle cx="114.0" cy="429.4" r="2.45" fill="#3c6974"/>
<circle cx="108.1" cy="434.6" r="2.45" fill="#3c6974"/>
<circle cx="107.8" cy="439.0" r="2.45" fill="#3c6974"/>
<circle cx="114.0" cy="438.2" r="2.45" fill="#3c6974"/>
<path d="M101.9 443.7 L104.5 448.2 L99.3 448.2Z" fill="#3c6974"/>
<circle cx="110.0" cy="447.8" r="2.45" fill="#3c6974"/>
<circle cx="107.8" cy="452.2" r="2.45" fill="#3c6974"/>
<circle cx="112.2" cy="453.0" r="2.45" fill="#3c6974"/>
<circle cx="106.8" cy="458.8" r="2.45" fill="#3c6974"/>
<circle cx="99.7" cy="462.5" r="2.45" fill="#3c6974"/>
<circle cx="104.9" cy="463.2" r="2.45" fill="#3c6974"/>
<circle cx="109.3" cy="464.0" r="2.45" fill="#3c6974"/>
<circle cx="102.6" cy="469.1" r="2.45" fill="#3c6974"/>
<circle cx="111.5" cy="469.1" r="2.45" fill="#3c6974"/>
<path d="M107.0 471.7 L109.6 476.2 L104.4 476.2Z" fill="#3c6974"/>
<circle cx="104.9" cy="472.0" r="2.45" fill="#3c6974"/>
<circle cx="99.7" cy="477.9" r="2.45" fill="#3c6974"/>
<circle cx="112.2" cy="479.4" r="2.45" fill="#3c6974"/>
<circle cx="99.0" cy="483.8" r="2.45" fill="#3c6974"/>
<circle cx="107.0" cy="483.1" r="2.45" fill="#3c6974"/>
<circle cx="112.2" cy="484.6" r="2.45" fill="#3c6974"/>
<circle cx="104.1" cy="487.5" r="2.45" fill="#3c6974"/>
<circle cx="114.4" cy="488.2" r="2.45" fill="#3c6974"/>
<circle cx="101.2" cy="491.2" r="2.45" fill="#3c6974"/>
<circle cx="108.5" cy="491.2" r="2.45" fill="#3c6974"/>
<path d="M111.5 490.8 L114.1 495.3 L108.9 495.3Z" fill="#3c6974"/>
<circle cx="99.7" cy="495.6" r="2.45" fill="#3c6974"/>
<circle cx="104.9" cy="495.6" r="2.45" fill="#3c6974"/>
<circle cx="115.1" cy="492.6" r="2.45" fill="#3c6974"/>
<circle cx="99.0" cy="500.0" r="2.45" fill="#3c6974"/>
<circle cx="103.4" cy="500.7" r="2.45" fill="#3c6974"/>
<circle cx="110.0" cy="500.7" r="2.45" fill="#3c6974"/>
<circle cx="113.7" cy="501.5" r="2.45" fill="#3c6974"/>
<circle cx="107.0" cy="498.5" r="2.45" fill="#3c6974"/>
<circle cx="98.2" cy="487.5" r="2.45" fill="#3c6974"/>
<circle cx="135.1" cy="362.9" r="2.45" fill="#d6391c"/>
<circle cx="141.3" cy="371.3" r="2.45" fill="#d6391c"/>
<circle cx="139.1" cy="373.5" r="2.45" fill="#d6391c"/>
<circle cx="137.6" cy="375.7" r="2.45" fill="#d6391c"/>
<circle cx="128.1" cy="376.5" r="2.45" fill="#d6391c"/>
<circle cx="132.5" cy="380.9" r="2.45" fill="#d6391c"/>
<circle cx="128.8" cy="385.3" r="2.45" fill="#d6391c"/>
<circle cx="134.7" cy="386.0" r="2.45" fill="#d6391c"/>
<circle cx="126.6" cy="386.8" r="2.45" fill="#d6391c"/>
<circle cx="128.1" cy="391.2" r="2.45" fill="#d6391c"/>
<circle cx="137.6" cy="402.2" r="2.45" fill="#d6391c"/>
<circle cx="128.8" cy="408.8" r="2.45" fill="#d6391c"/>
<circle cx="125.9" cy="414.7" r="2.45" fill="#d6391c"/>
<circle cx="128.1" cy="415.4" r="2.45" fill="#d6391c"/>
<circle cx="130.3" cy="418.4" r="2.45" fill="#d6391c"/>
<circle cx="137.6" cy="417.6" r="2.45" fill="#d6391c"/>
<path d="M125.9 420.2 L128.5 424.7 L123.3 424.7Z" fill="#d6391c"/>
<circle cx="130.3" cy="425.7" r="2.45" fill="#d6391c"/>
<circle cx="133.2" cy="427.2" r="2.45" fill="#d6391c"/>
<circle cx="138.8" cy="429.4" r="2.45" fill="#d6391c"/>
<circle cx="134.0" cy="433.1" r="2.45" fill="#d6391c"/>
<circle cx="140.6" cy="452.2" r="2.45" fill="#d6391c"/>
<path d="M134.4 454.8 L137.0 459.3 L131.8 459.3Z" fill="#d6391c"/>
<circle cx="131.0" cy="461.0" r="2.45" fill="#d6391c"/>
<circle cx="134.0" cy="461.8" r="2.45" fill="#d6391c"/>
<circle cx="135.4" cy="464.0" r="2.45" fill="#d6391c"/>
<circle cx="139.1" cy="468.4" r="2.45" fill="#d6391c"/>
<circle cx="128.1" cy="468.4" r="2.45" fill="#d6391c"/>
<circle cx="128.8" cy="475.7" r="2.45" fill="#d6391c"/>
<circle cx="135.4" cy="482.1" r="2.45" fill="#d6391c"/>
<circle cx="134.0" cy="489.7" r="2.45" fill="#d6391c"/>
<circle cx="129.6" cy="493.4" r="2.45" fill="#d6391c"/>
<path d="M141.3 490.8 L143.9 495.3 L138.7 495.3Z" fill="#d6391c"/>
<circle cx="127.4" cy="495.6" r="2.45" fill="#d6391c"/>
<circle cx="131.8" cy="495.6" r="2.45" fill="#d6391c"/>
<circle cx="136.2" cy="494.9" r="2.45" fill="#d6391c"/>
<circle cx="126.6" cy="500.0" r="2.45" fill="#d6391c"/>
<circle cx="130.3" cy="500.0" r="2.45" fill="#d6391c"/>
<circle cx="134.0" cy="499.3" r="2.45" fill="#d6391c"/>
<circle cx="142.1" cy="501.5" r="2.45" fill="#d6391c"/>
<circle cx="128.8" cy="497.8" r="2.45" fill="#d6391c"/>
<circle cx="137.6" cy="498.5" r="2.45" fill="#d6391c"/>
<circle cx="181.5" cy="365.4" r="2.45" fill="#3c6974"/>
<circle cx="174.1" cy="372.8" r="2.45" fill="#3c6974"/>
<circle cx="167.9" cy="377.9" r="2.45" fill="#3c6974"/>
<circle cx="167.9" cy="395.6" r="2.45" fill="#3c6974"/>
<circle cx="175.6" cy="397.1" r="2.45" fill="#3c6974"/>
<circle cx="182.9" cy="394.1" r="2.45" fill="#3c6974"/>
<circle cx="182.2" cy="397.1" r="2.45" fill="#3c6974"/>
<circle cx="174.1" cy="400.7" r="2.45" fill="#3c6974"/>
<circle cx="176.3" cy="414.0" r="2.45" fill="#3c6974"/>
<circle cx="181.5" cy="414.0" r="2.45" fill="#3c6974"/>
<circle cx="181.5" cy="424.3" r="2.45" fill="#3c6974"/>
<circle cx="177.1" cy="425.0" r="2.45" fill="#3c6974"/>
<circle cx="172.6" cy="426.5" r="2.45" fill="#3c6974"/>
<circle cx="169.7" cy="428.7" r="2.45" fill="#3c6974"/>
<circle cx="182.9" cy="431.6" r="2.45" fill="#3c6974"/>
<circle cx="177.1" cy="436.8" r="2.45" fill="#3c6974"/>
<circle cx="171.9" cy="440.4" r="2.45" fill="#3c6974"/>
<circle cx="169.7" cy="443.4" r="2.45" fill="#3c6974"/>
<circle cx="174.1" cy="443.4" r="2.45" fill="#3c6974"/>
<circle cx="182.9" cy="444.1" r="2.45" fill="#3c6974"/>
<circle cx="177.1" cy="443.4" r="2.45" fill="#3c6974"/>
<circle cx="177.8" cy="455.9" r="2.45" fill="#3c6974"/>
<circle cx="173.4" cy="460.3" r="2.45" fill="#3c6974"/>
<circle cx="176.3" cy="459.6" r="2.45" fill="#3c6974"/>
<circle cx="175.6" cy="466.2" r="2.45" fill="#3c6974"/>
<circle cx="181.2" cy="466.9" r="2.45" fill="#3c6974"/>
<circle cx="168.2" cy="472.8" r="2.45" fill="#3c6974"/>
<circle cx="181.5" cy="473.5" r="2.45" fill="#3c6974"/>
<circle cx="173.4" cy="475.7" r="2.45" fill="#3c6974"/>
<circle cx="177.8" cy="476.5" r="2.45" fill="#3c6974"/>
<circle cx="180.0" cy="477.9" r="2.45" fill="#3c6974"/>
<circle cx="177.1" cy="482.4" r="2.45" fill="#3c6974"/>
<circle cx="181.5" cy="482.4" r="2.45" fill="#3c6974"/>
<circle cx="177.8" cy="484.6" r="2.45" fill="#3c6974"/>
<circle cx="184.4" cy="486.8" r="2.45" fill="#3c6974"/>
<circle cx="169.0" cy="487.5" r="2.45" fill="#3c6974"/>
<circle cx="169.7" cy="491.2" r="2.45" fill="#3c6974"/>
<circle cx="174.1" cy="493.4" r="2.45" fill="#3c6974"/>
<circle cx="172.6" cy="497.1" r="2.45" fill="#3c6974"/>
<circle cx="177.1" cy="496.3" r="2.45" fill="#3c6974"/>
<circle cx="182.2" cy="497.8" r="2.45" fill="#3c6974"/>
<path d="M182.9 495.9 L185.5 500.4 L180.3 500.4Z" fill="#3c6974"/>
<circle cx="171.9" cy="500.0" r="2.45" fill="#3c6974"/>
<circle cx="175.6" cy="500.0" r="2.45" fill="#3c6974"/>
<circle cx="184.4" cy="500.7" r="2.45" fill="#3c6974"/>
<circle cx="180.0" cy="500.7" r="2.45" fill="#3c6974"/>
<circle cx="204.7" cy="361.8" r="2.45" fill="#d6391c"/>
<path d="M211.8 358.9 L214.4 363.4 L209.2 363.4Z" fill="#d6391c"/>
<circle cx="208.4" cy="364.7" r="2.45" fill="#d6391c"/>
<circle cx="211.3" cy="366.2" r="2.45" fill="#d6391c"/>
<circle cx="210.6" cy="368.4" r="2.45" fill="#d6391c"/>
<circle cx="209.1" cy="374.3" r="2.45" fill="#d6391c"/>
<circle cx="209.9" cy="376.5" r="2.45" fill="#d6391c"/>
<circle cx="211.3" cy="378.7" r="2.45" fill="#d6391c"/>
<circle cx="198.8" cy="381.6" r="2.45" fill="#d6391c"/>
<circle cx="201.0" cy="385.3" r="2.45" fill="#d6391c"/>
<path d="M204.0 385.6 L206.6 390.1 L201.4 390.1Z" fill="#d6391c"/>
<circle cx="202.5" cy="394.9" r="2.45" fill="#d6391c"/>
<circle cx="209.9" cy="398.5" r="2.45" fill="#d6391c"/>
<circle cx="211.3" cy="402.2" r="2.45" fill="#d6391c"/>
<circle cx="207.6" cy="404.4" r="2.45" fill="#d6391c"/>
<circle cx="200.3" cy="412.5" r="2.45" fill="#d6391c"/>
<path d="M198.1 415.0 L200.7 419.5 L195.5 419.5Z" fill="#d6391c"/>
<circle cx="207.6" cy="426.5" r="2.45" fill="#d6391c"/>
<circle cx="195.6" cy="433.1" r="2.45" fill="#d6391c"/>
<path d="M200.3 438.6 L202.9 443.1 L197.7 443.1Z" fill="#d6391c"/>
<circle cx="211.8" cy="445.6" r="2.45" fill="#d6391c"/>
<circle cx="204.7" cy="451.5" r="2.45" fill="#d6391c"/>
<circle cx="202.5" cy="452.9" r="2.45" fill="#d6391c"/>
<circle cx="201.0" cy="464.0" r="2.45" fill="#d6391c"/>
<circle cx="204.0" cy="470.9" r="2.45" fill="#d6391c"/>
<circle cx="209.9" cy="471.3" r="2.45" fill="#d6391c"/>
<circle cx="198.8" cy="478.7" r="2.45" fill="#d6391c"/>
<circle cx="207.4" cy="479.4" r="2.45" fill="#d6391c"/>
<circle cx="201.0" cy="483.8" r="2.45" fill="#d6391c"/>
<circle cx="208.4" cy="484.6" r="2.45" fill="#d6391c"/>
<circle cx="207.6" cy="488.2" r="2.45" fill="#d6391c"/>
<circle cx="201.8" cy="491.2" r="2.45" fill="#d6391c"/>
<circle cx="199.6" cy="493.4" r="2.45" fill="#d6391c"/>
<circle cx="204.7" cy="492.6" r="2.45" fill="#d6391c"/>
<circle cx="197.4" cy="495.6" r="2.45" fill="#d6391c"/>
<circle cx="196.6" cy="500.7" r="2.45" fill="#d6391c"/>
<circle cx="201.8" cy="500.7" r="2.45" fill="#d6391c"/>
<circle cx="206.2" cy="500.7" r="2.45" fill="#d6391c"/>
<circle cx="210.6" cy="500.7" r="2.45" fill="#d6391c"/>
<circle cx="267.1" cy="368.4" r="2.45" fill="#3c6974"/>
<circle cx="276.3" cy="444.9" r="2.45" fill="#3c6974"/>
<path d="M271.2 467.3 L273.8 471.8 L268.6 471.8Z" fill="#3c6974"/>
<circle cx="277.4" cy="468.8" r="2.45" fill="#3c6974"/>
<circle cx="273.4" cy="485.3" r="2.45" fill="#3c6974"/>
<circle cx="272.4" cy="487.5" r="2.45" fill="#3c6974"/>
<path d="M266.8 487.1 L269.4 491.6 L264.2 491.6Z" fill="#3c6974"/>
<circle cx="277.8" cy="494.1" r="2.45" fill="#3c6974"/>
<circle cx="265.0" cy="500.5" r="2.45" fill="#3c6974"/>
<circle cx="268.0" cy="500.5" r="2.45" fill="#3c6974"/>
<circle cx="271.0" cy="500.5" r="2.45" fill="#3c6974"/>
<circle cx="274.0" cy="500.5" r="2.45" fill="#3c6974"/>
<circle cx="277.0" cy="500.5" r="2.45" fill="#3c6974"/>
<circle cx="280.0" cy="500.5" r="2.45" fill="#3c6974"/>
<circle cx="266.0" cy="498.0" r="2.45" fill="#3c6974"/>
<circle cx="270.0" cy="497.5" r="2.45" fill="#3c6974"/>
<circle cx="276.0" cy="498.0" r="2.45" fill="#3c6974"/>
<circle cx="279.0" cy="497.5" r="2.45" fill="#3c6974"/>
<circle cx="264.5" cy="500.5" r="2.45" fill="#3c6974"/>
<circle cx="266.5" cy="500.5" r="2.45" fill="#3c6974"/>
<circle cx="268.5" cy="500.5" r="2.45" fill="#3c6974"/>
<circle cx="270.5" cy="500.5" r="2.45" fill="#3c6974"/>
<circle cx="272.5" cy="500.5" r="2.45" fill="#3c6974"/>
<circle cx="274.5" cy="500.5" r="2.45" fill="#3c6974"/>
<circle cx="276.5" cy="500.5" r="2.45" fill="#3c6974"/>
<circle cx="278.5" cy="500.5" r="2.45" fill="#3c6974"/>
<circle cx="280.5" cy="500.5" r="2.45" fill="#3c6974"/>
<circle cx="265.5" cy="497.8" r="2.45" fill="#3c6974"/>
<circle cx="268.0" cy="497.8" r="2.45" fill="#3c6974"/>
<circle cx="270.5" cy="497.8" r="2.45" fill="#3c6974"/>
<circle cx="273.0" cy="497.8" r="2.45" fill="#3c6974"/>
<circle cx="275.5" cy="497.8" r="2.45" fill="#3c6974"/>
<circle cx="278.0" cy="497.8" r="2.45" fill="#3c6974"/>
<circle cx="280.5" cy="497.8" r="2.45" fill="#3c6974"/>
<circle cx="273.5" cy="485.2" r="2.45" fill="#3c6974"/>
<circle cx="271.9" cy="487.4" r="2.45" fill="#3c6974"/>
<circle cx="277.9" cy="494.2" r="2.45" fill="#3c6974"/>
<circle cx="293.5" cy="362.1" r="2.45" fill="#d6391c"/>
<circle cx="301.5" cy="365.9" r="2.45" fill="#d6391c"/>
<circle cx="303.8" cy="367.9" r="2.45" fill="#d6391c"/>
<circle cx="305.6" cy="369.9" r="2.45" fill="#d6391c"/>
<circle cx="296.8" cy="382.6" r="2.45" fill="#d6391c"/>
<path d="M301.5 383.4 L304.1 387.9 L298.9 387.9Z" fill="#d6391c"/>
<circle cx="306.3" cy="381.6" r="2.45" fill="#d6391c"/>
<circle cx="306.8" cy="399.3" r="2.45" fill="#d6391c"/>
<circle cx="306.3" cy="402.2" r="2.45" fill="#d6391c"/>
<circle cx="306.0" cy="405.1" r="2.45" fill="#d6391c"/>
<circle cx="304.9" cy="419.9" r="2.45" fill="#d6391c"/>
<circle cx="309.3" cy="417.9" r="2.45" fill="#d6391c"/>
<path d="M309.3 442.3 L311.9 446.8 L306.7 446.8Z" fill="#d6391c"/>
<circle cx="306.8" cy="495.3" r="2.45" fill="#d6391c"/>
<circle cx="303.4" cy="497.8" r="2.45" fill="#d6391c"/>
<circle cx="292.0" cy="501.0" r="2.45" fill="#d6391c"/>
<circle cx="295.0" cy="501.0" r="2.45" fill="#d6391c"/>
<circle cx="298.0" cy="501.0" r="2.45" fill="#d6391c"/>
<circle cx="301.0" cy="501.0" r="2.45" fill="#d6391c"/>
<circle cx="304.0" cy="501.0" r="2.45" fill="#d6391c"/>
<circle cx="307.0" cy="501.0" r="2.45" fill="#d6391c"/>
<circle cx="310.0" cy="501.0" r="2.45" fill="#d6391c"/>
<circle cx="300.0" cy="499.5" r="2.45" fill="#d6391c"/>
<circle cx="292.5" cy="501.0" r="2.45" fill="#d6391c"/>
<circle cx="294.5" cy="501.0" r="2.45" fill="#d6391c"/>
<circle cx="296.5" cy="501.0" r="2.45" fill="#d6391c"/>
<circle cx="298.5" cy="501.0" r="2.45" fill="#d6391c"/>
<circle cx="300.5" cy="501.0" r="2.45" fill="#d6391c"/>
<circle cx="302.5" cy="501.0" r="2.45" fill="#d6391c"/>
<circle cx="304.5" cy="501.0" r="2.45" fill="#d6391c"/>
<circle cx="306.5" cy="501.0" r="2.45" fill="#d6391c"/>
<circle cx="308.5" cy="501.0" r="2.45" fill="#d6391c"/>
<circle cx="310.5" cy="501.0" r="2.45" fill="#d6391c"/>
<circle cx="306.7" cy="495.2" r="2.45" fill="#d6391c"/>
<circle cx="303.4" cy="497.7" r="2.45" fill="#d6391c"/>
<circle cx="296.0" cy="500.0" r="2.45" fill="#d6391c"/>
<circle cx="300.0" cy="499.8" r="2.45" fill="#d6391c"/>
<circle cx="345.4" cy="377.2" r="2.45" fill="#3c6974"/>
<circle cx="335.9" cy="397.8" r="2.45" fill="#3c6974"/>
<circle cx="343.2" cy="399.7" r="2.45" fill="#3c6974"/>
<circle cx="350.6" cy="403.2" r="2.45" fill="#3c6974"/>
<circle cx="337.6" cy="410.0" r="2.45" fill="#3c6974"/>
<circle cx="344.0" cy="414.7" r="2.45" fill="#3c6974"/>
<circle cx="346.2" cy="414.0" r="2.45" fill="#3c6974"/>
<path d="M345.1 419.5 L347.7 424.0 L342.5 424.0Z" fill="#3c6974"/>
<circle cx="343.2" cy="430.1" r="2.45" fill="#3c6974"/>
<circle cx="349.9" cy="430.6" r="2.45" fill="#3c6974"/>
<circle cx="345.0" cy="435.0" r="2.45" fill="#3c6974"/>
<circle cx="337.6" cy="445.6" r="2.45" fill="#3c6974"/>
<circle cx="347.4" cy="452.9" r="2.45" fill="#3c6974"/>
<path d="M341.0 458.4 L343.6 462.9 L338.4 462.9Z" fill="#3c6974"/>
<circle cx="351.3" cy="463.2" r="2.45" fill="#3c6974"/>
<circle cx="348.4" cy="464.7" r="2.45" fill="#3c6974"/>
<circle cx="343.2" cy="468.4" r="2.45" fill="#3c6974"/>
<circle cx="338.8" cy="477.9" r="2.45" fill="#3c6974"/>
<circle cx="346.9" cy="477.9" r="2.45" fill="#3c6974"/>
<circle cx="348.4" cy="480.1" r="2.45" fill="#3c6974"/>
<circle cx="347.6" cy="484.6" r="2.45" fill="#3c6974"/>
<circle cx="349.1" cy="486.8" r="2.45" fill="#3c6974"/>
<circle cx="338.7" cy="478.0" r="2.45" fill="#3c6974"/>
<circle cx="346.7" cy="477.4" r="2.45" fill="#3c6974"/>
<circle cx="348.0" cy="480.5" r="2.45" fill="#3c6974"/>
<circle cx="349.2" cy="484.9" r="2.45" fill="#3c6974"/>
<circle cx="345.5" cy="483.0" r="2.45" fill="#3c6974"/>
<circle cx="351.1" cy="463.1" r="2.45" fill="#3c6974"/>
<circle cx="348.6" cy="465.0" r="2.45" fill="#3c6974"/>
<circle cx="343.0" cy="467.4" r="2.45" fill="#3c6974"/>
<circle cx="345.5" cy="468.0" r="2.45" fill="#3c6974"/>
<path d="M341.1 458.0 L343.7 462.5 L338.5 462.5Z" fill="#3c6974"/>
<circle cx="335.9" cy="488.1" r="2.45" fill="#3c6974"/>
<circle cx="339.5" cy="487.5" r="2.45" fill="#3c6974"/>
<circle cx="337.5" cy="491.1" r="2.45" fill="#3c6974"/>
<circle cx="340.1" cy="490.5" r="2.45" fill="#3c6974"/>
<circle cx="336.2" cy="494.4" r="2.45" fill="#3c6974"/>
<circle cx="339.0" cy="494.3" r="2.45" fill="#3c6974"/>
<circle cx="342.5" cy="493.4" r="2.45" fill="#3c6974"/>
<circle cx="347.2" cy="491.0" r="2.45" fill="#3c6974"/>
<circle cx="350.1" cy="494.6" r="2.45" fill="#3c6974"/>
<circle cx="336.7" cy="497.6" r="2.45" fill="#3c6974"/>
<circle cx="339.6" cy="497.4" r="2.45" fill="#3c6974"/>
<circle cx="343.5" cy="496.5" r="2.45" fill="#3c6974"/>
<circle cx="346.6" cy="497.2" r="2.45" fill="#3c6974"/>
<circle cx="349.4" cy="498.5" r="2.45" fill="#3c6974"/>
<circle cx="335.9" cy="501.4" r="2.45" fill="#3c6974"/>
<circle cx="339.0" cy="501.5" r="2.45" fill="#3c6974"/>
<circle cx="342.5" cy="501.2" r="2.45" fill="#3c6974"/>
<circle cx="345.9" cy="500.9" r="2.45" fill="#3c6974"/>
<circle cx="350.1" cy="501.9" r="2.45" fill="#3c6974"/>
<circle cx="344.9" cy="489.2" r="2.45" fill="#3c6974"/>
<circle cx="348.3" cy="488.2" r="2.45" fill="#3c6974"/>
<path d="M376.9 358.9 L379.5 363.4 L374.3 363.4Z" fill="#d6391c"/>
<circle cx="376.9" cy="368.8" r="2.45" fill="#d6391c"/>
<circle cx="377.9" cy="380.1" r="2.45" fill="#d6391c"/>
<path d="M376.2 415.0 L378.8 419.5 L373.6 419.5Z" fill="#d6391c"/>
<circle cx="368.5" cy="426.5" r="2.45" fill="#d6391c"/>
<circle cx="367.4" cy="471.3" r="2.45" fill="#d6391c"/>
<circle cx="370.6" cy="471.3" r="2.45" fill="#d6391c"/>
<circle cx="371.0" cy="480.1" r="2.45" fill="#d6391c"/>
<circle cx="374.7" cy="481.1" r="2.45" fill="#d6391c"/>
<circle cx="364.0" cy="487.5" r="2.45" fill="#d6391c"/>
<circle cx="376.5" cy="487.0" r="2.45" fill="#d6391c"/>
<circle cx="366.6" cy="490.1" r="2.45" fill="#d6391c"/>
<circle cx="374.1" cy="489.7" r="2.45" fill="#d6391c"/>
<circle cx="369.2" cy="492.7" r="2.45" fill="#d6391c"/>
<circle cx="371.7" cy="492.4" r="2.45" fill="#d6391c"/>
<circle cx="371.8" cy="495.3" r="2.45" fill="#d6391c"/>
<circle cx="369.3" cy="495.1" r="2.45" fill="#d6391c"/>
<circle cx="374.4" cy="497.9" r="2.45" fill="#d6391c"/>
<circle cx="366.9" cy="497.8" r="2.45" fill="#d6391c"/>
<circle cx="377.0" cy="500.5" r="2.45" fill="#d6391c"/>
<circle cx="364.5" cy="500.5" r="2.45" fill="#d6391c"/>
<circle cx="365.0" cy="501.2" r="2.45" fill="#d6391c"/>
<circle cx="368.0" cy="501.3" r="2.45" fill="#d6391c"/>
<circle cx="371.0" cy="501.0" r="2.45" fill="#d6391c"/>
<circle cx="374.5" cy="501.2" r="2.45" fill="#d6391c"/>
<circle cx="378.0" cy="501.0" r="2.45" fill="#d6391c"/>
<circle cx="366.5" cy="493.0" r="2.45" fill="#d6391c"/>
<circle cx="375.0" cy="493.5" r="2.45" fill="#d6391c"/>
<circle cx="362.5" cy="496.0" r="2.45" fill="#d6391c"/>
<circle cx="379.0" cy="497.0" r="2.45" fill="#d6391c"/>
<circle cx="404.2" cy="412.7" r="2.45" fill="#3c6974"/>
<circle cx="409.5" cy="417.1" r="2.45" fill="#3c6974"/>
<circle cx="418.4" cy="423.9" r="2.45" fill="#3c6974"/>
<circle cx="404.8" cy="449.8" r="2.45" fill="#3c6974"/>
<circle cx="407.2" cy="466.2" r="2.45" fill="#3c6974"/>
<circle cx="407.5" cy="468.2" r="2.45" fill="#3c6974"/>
<circle cx="413.1" cy="470.6" r="2.45" fill="#3c6974"/>
<circle cx="420.4" cy="470.6" r="2.45" fill="#3c6974"/>
<circle cx="408.5" cy="475.6" r="2.45" fill="#3c6974"/>
<circle cx="413.9" cy="478.1" r="2.45" fill="#3c6974"/>
<path d="M409.5 477.5 L412.1 482.0 L406.9 482.0Z" fill="#3c6974"/>
<circle cx="419.9" cy="483.1" r="2.45" fill="#3c6974"/>
<circle cx="419.9" cy="485.6" r="2.45" fill="#3c6974"/>
<circle cx="405.5" cy="487.6" r="2.45" fill="#3c6974"/>
<circle cx="410.0" cy="488.1" r="2.45" fill="#3c6974"/>
<circle cx="408.1" cy="475.6" r="2.45" fill="#3c6974"/>
<circle cx="413.7" cy="477.9" r="2.45" fill="#3c6974"/>
<circle cx="419.7" cy="483.1" r="2.45" fill="#3c6974"/>
<circle cx="419.7" cy="485.9" r="2.45" fill="#3c6974"/>
<circle cx="405.7" cy="487.3" r="2.45" fill="#3c6974"/>
<circle cx="410.4" cy="487.7" r="2.45" fill="#3c6974"/>
<circle cx="404.3" cy="490.1" r="2.45" fill="#3c6974"/>
<circle cx="407.8" cy="490.9" r="2.45" fill="#3c6974"/>
<circle cx="405.3" cy="493.9" r="2.45" fill="#3c6974"/>
<circle cx="409.0" cy="494.8" r="2.45" fill="#3c6974"/>
<circle cx="411.5" cy="492.7" r="2.45" fill="#3c6974"/>
<circle cx="415.9" cy="492.5" r="2.45" fill="#3c6974"/>
<circle cx="419.0" cy="491.4" r="2.45" fill="#3c6974"/>
<circle cx="410.6" cy="496.6" r="2.45" fill="#3c6974"/>
<circle cx="414.8" cy="495.8" r="2.45" fill="#3c6974"/>
<circle cx="417.6" cy="495.3" r="2.45" fill="#3c6974"/>
<circle cx="420.5" cy="498.8" r="2.45" fill="#3c6974"/>
<circle cx="403.6" cy="497.7" r="2.45" fill="#3c6974"/>
<circle cx="406.6" cy="497.1" r="2.45" fill="#3c6974"/>
<circle cx="404.8" cy="500.7" r="2.45" fill="#3c6974"/>
<circle cx="407.6" cy="501.2" r="2.45" fill="#3c6974"/>
<circle cx="410.7" cy="500.7" r="2.45" fill="#3c6974"/>
<circle cx="413.6" cy="501.3" r="2.45" fill="#3c6974"/>
<circle cx="416.6" cy="500.9" r="2.45" fill="#3c6974"/>
<circle cx="420.2" cy="501.0" r="2.45" fill="#3c6974"/>
<circle cx="432.3" cy="479.1" r="2.45" fill="#d6391c"/>
<circle cx="447.3" cy="478.8" r="2.45" fill="#d6391c"/>
<circle cx="431.0" cy="501.0" r="2.45" fill="#d6391c"/>
<circle cx="433.0" cy="501.0" r="2.45" fill="#d6391c"/>
<circle cx="435.0" cy="501.0" r="2.45" fill="#d6391c"/>
<circle cx="437.0" cy="501.0" r="2.45" fill="#d6391c"/>
<circle cx="439.0" cy="501.0" r="2.45" fill="#d6391c"/>
<circle cx="441.0" cy="501.0" r="2.45" fill="#d6391c"/>
<circle cx="443.0" cy="501.0" r="2.45" fill="#d6391c"/>
<circle cx="445.0" cy="501.0" r="2.45" fill="#d6391c"/>
<circle cx="447.0" cy="501.0" r="2.45" fill="#d6391c"/>
<circle cx="449.0" cy="501.0" r="2.45" fill="#d6391c"/>
<circle cx="435.1" cy="496.0" r="2.45" fill="#d6391c"/>
<circle cx="433.0" cy="498.5" r="2.45" fill="#d6391c"/>
<circle cx="437.0" cy="498.5" r="2.45" fill="#d6391c"/>
<circle cx="441.0" cy="499.0" r="2.45" fill="#d6391c"/>
<circle cx="445.0" cy="500.0" r="2.45" fill="#d6391c"/>
<path d="M98.2 466.9 H115.1" stroke="#000" stroke-width="1.3"/>
<path d="M125.9 446.6 H142.8" stroke="#000" stroke-width="1.3"/>
<path d="M168.2 449.3 H184.4" stroke="#000" stroke-width="1.3"/>
<path d="M195.9 447.1 H212.1" stroke="#000" stroke-width="1.3"/>
<path d="M263.8 495.6 H281.5" stroke="#000" stroke-width="1.3"/>
<path d="M293.1 469.4 H309.3" stroke="#000" stroke-width="1.3"/>
<path d="M334.4 470.9 H351.3" stroke="#000" stroke-width="1.3"/>
<path d="M362.9 484.6 H379.1" stroke="#000" stroke-width="1.3"/>
<path d="M403.5 489.1 H420.4" stroke="#000" stroke-width="1.3"/>
<path d="M430.8 500.7 H449.3" stroke="#000" stroke-width="1.3"/>
<text x="1.80" y="559.60" font-size="26" text-anchor="start" fill="#111" >C</text>
<text x="570.20" y="546.50" font-size="12.9" text-anchor="middle" textLength="144.0" lengthAdjust="spacingAndGlyphs" fill="#111" >Abundance in sample type:</text>
<text x="528.20" y="561.80" font-size="12.9" text-anchor="start" textLength="38.0" lengthAdjust="spacingAndGlyphs" fill="#111" >Control</text>
<text x="573.80" y="561.80" font-size="12.9" text-anchor="start" textLength="37.5" lengthAdjust="spacingAndGlyphs" fill="#111" >Wound</text>
<path d="M544 570 H570.7 M575 570 H600" stroke="#111" stroke-width="1.5"/>
<path d="M538.2 570 L545.5 566 L545.5 574Z M605.6 570 L598.3 566 L598.3 574Z" fill="#111"/>
<path d="M574.2 584 V1030" stroke="#f0f0f0" stroke-width="0.7"/>
<path d="M29.5 1005.66V1045.30M84.7 979.02V1032.30M102.6 938.75V1019.30M114.5 877.70V999.80M127.2 814.91V940.49M149.5 762.45V867.36M154.3 694.10V830.80M168.7 637.42V750.77M172.6 589.49V685.36M185.7 577.30V601.67M185.7 577.30H233.1M197.3 590.30V613.05M197.3 590.30H240.5M216 603.30V622.80M216 603.30H225.0M234.7 616.30V629.30M234.7 616.30H239.9M234.7 629.30H253.6M216 622.80H234.7M197.3 613.05H216M185.7 601.67H197.3M172.6 589.49H185.7M179.2 663.42V707.30M195.1 648.80V678.05M208.1 642.30V655.30M208.1 642.30H226.8M208.1 655.30H212.8M195.1 648.80H208.1M209.1 668.30V687.80M209.1 668.30H219.3M215.6 681.30V694.30M215.6 681.30H220.3M215.6 694.30H221.2M209.1 687.80H215.6M195.1 678.05H209.1M179.2 663.42H195.1M179.2 707.30H238.9M172.6 685.36H179.2M168.7 637.42H172.6M196.9 730.05V771.49M206.8 720.30V739.80M206.8 720.30H233.3M211.9 733.30V746.30M211.9 733.30H224.9M211.9 746.30H221.2M206.8 739.80H211.9M196.9 730.05H206.8M205.3 759.30V783.67M205.3 759.30H229.6M215.6 772.30V795.05M215.6 772.30H232.4M220.3 785.30V804.80M220.3 785.30H244.5M231.5 798.30V811.30M231.5 798.30H260.9M231.5 811.30H265.2M220.3 804.80H231.5M215.6 795.05H220.3M205.3 783.67H215.6M196.9 771.49H205.3M168.7 750.77H196.9M154.3 694.10H168.7M165.6 824.30V837.30M165.6 824.30H184.0M165.6 837.30H207.8M154.3 830.80H165.6M149.5 762.45H154.3M163.7 850.30V884.42M163.7 850.30H194.9M179.7 869.80V899.05M189.4 863.30V876.30M189.4 863.30H234.1M189.4 876.30H272.4M179.7 869.80H189.4M201.1 889.30V908.80M201.1 889.30H259.3M263.4 902.30V915.30M263.4 902.30H288.9M263.4 915.30H287.3M201.1 908.80H263.4M179.7 899.05H201.1M163.7 884.42H179.7M149.5 867.36H163.7M127.2 814.91H149.5M139.3 928.30V952.67M139.3 928.30H167.0M154 941.30V964.05M154 941.30H218.5M181.9 954.30V973.80M181.9 954.30H206.7M194.7 967.30V980.30M194.7 967.30H202.3M194.7 980.30H201.1M181.9 973.80H194.7M154 964.05H181.9M139.3 952.67H154M127.2 940.49H139.3M114.5 877.70H127.2M140.6 993.30V1006.30M140.6 993.30H149.3M140.6 1006.30H146.2M114.5 999.80H140.6M102.6 938.75H114.5M102.6 1019.30H115.1M84.7 979.02H102.6M84.7 1032.30H102.6M29.5 1005.66H84.7M29.5 1045.30H85.5M0 1025.48H29.5" fill="none" stroke="#666" stroke-width="1.1"/>
<rect x="47" y="1002.7" width="8" height="6" fill="#fff"/>
<path d="M47.4 1009.3 L50.6 1002.1 M50.6 1009.3 L53.8 1002.1" stroke="#333" stroke-width="0.9"/>
<rect x="47" y="1042.3" width="8" height="6" fill="#fff"/>
<path d="M47.4 1048.9 L50.6 1041.7 M50.6 1048.9 L53.8 1041.7" stroke="#333" stroke-width="0.9"/>
<text x="236.20" y="582.60" font-size="15.3" text-anchor="start" textLength="160.2" lengthAdjust="spacingAndGlyphs" fill="#000" stroke="#000" stroke-width="0.18">C. pseudodiphtheriticum</text>
<polygon points="398.90,575.80 399.64,577.78 401.75,577.87 400.10,579.19 400.66,581.23 398.90,580.06 397.14,581.23 397.70,579.19 396.05,577.87 398.16,577.78" fill="#111"/>
<text x="243.30" y="595.60" font-size="15.3" text-anchor="start" textLength="83.9" lengthAdjust="spacingAndGlyphs" fill="#000" stroke="#000" stroke-width="0.18">C. confusum</text>
<polygon points="330.60,588.80 331.34,590.78 333.45,590.87 331.80,592.19 332.36,594.23 330.60,593.06 328.84,594.23 329.40,592.19 327.75,590.87 329.86,590.78" fill="#111"/>
<text x="228.10" y="608.60" font-size="15.3" text-anchor="start" textLength="87.8" lengthAdjust="spacingAndGlyphs" fill="#000" stroke="#000" stroke-width="0.18">C. macginleyi</text>
<polygon points="321.00,601.80 321.74,603.78 323.85,603.87 322.20,605.19 322.76,607.23 321.00,606.06 319.24,607.23 319.80,605.19 318.15,603.87 320.26,603.78" fill="#111"/>
<text x="243.00" y="621.60" font-size="15.3" text-anchor="start" textLength="189.3" lengthAdjust="spacingAndGlyphs" fill="#000" stroke="#000" stroke-width="0.18">TC2 C. accolens-fastidiosum</text>
<polygon points="435.00,614.80 435.74,616.78 437.85,616.87 436.20,618.19 436.76,620.23 435.00,619.06 433.24,620.23 433.80,618.19 432.15,616.87 434.26,616.78" fill="#111"/>
<text x="256.50" y="634.60" font-size="15.3" text-anchor="start" textLength="142.9" lengthAdjust="spacingAndGlyphs" fill="#000" stroke="#000" stroke-width="0.18">C. tuberculostearicum</text>
<polygon points="407.00,627.80 407.74,629.78 409.85,629.87 408.20,631.19 408.76,633.23 407.00,632.06 405.24,633.23 405.80,631.19 404.15,629.87 406.26,629.78" fill="#111"/>
<text x="229.80" y="647.60" font-size="15.3" text-anchor="start" textLength="70.4" lengthAdjust="spacingAndGlyphs" fill="#000" stroke="#000" stroke-width="0.18">C. striatum</text>
<polygon points="310.10,640.80 310.84,642.78 312.95,642.87 311.30,644.19 311.86,646.23 310.10,645.06 308.34,646.23 308.90,644.19 307.25,642.87 309.36,642.78" fill="#111"/>
<text x="215.60" y="660.60" font-size="15.3" text-anchor="start" textLength="76.4" lengthAdjust="spacingAndGlyphs" fill="#000" stroke="#000" stroke-width="0.18">C. simulans</text>
<polygon points="301.20,653.80 301.94,655.78 304.05,655.87 302.40,657.19 302.96,659.23 301.20,658.06 299.44,659.23 300.00,657.19 298.35,655.87 300.46,655.78" fill="#111"/>
<text x="221.80" y="673.60" font-size="15.3" text-anchor="start" textLength="107.0" lengthAdjust="spacingAndGlyphs" fill="#000" stroke="#000" stroke-width="0.18">C. aurimucosum</text>
<polygon points="336.90,666.80 337.64,668.78 339.75,668.87 338.10,670.19 338.66,672.23 336.90,671.06 335.14,672.23 335.70,670.19 334.05,668.87 336.16,668.78" fill="#111"/>
<text x="223.00" y="686.60" font-size="15.3" text-anchor="start" textLength="108.3" lengthAdjust="spacingAndGlyphs" fill="#000" stroke="#000" stroke-width="0.18">C. minutissimum</text>
<polygon points="340.90,679.80 341.64,681.78 343.75,681.87 342.10,683.19 342.66,685.23 340.90,684.06 339.14,685.23 339.70,683.19 338.05,681.87 340.16,681.78" fill="#111"/>
<text x="224.30" y="699.60" font-size="15.3" text-anchor="start" textLength="78.4" lengthAdjust="spacingAndGlyphs" fill="#000" stroke="#000" stroke-width="0.18">C. singulare</text>
<polygon points="310.10,692.80 310.84,694.78 312.95,694.87 311.30,696.19 311.86,698.23 310.10,697.06 308.34,698.23 308.90,696.19 307.25,694.87 309.36,694.78" fill="#111"/>
<text x="241.70" y="712.60" font-size="15.3" text-anchor="start" textLength="52.7" lengthAdjust="spacingAndGlyphs" fill="#000" stroke="#000" stroke-width="0.18">C. casei</text>
<text x="236.70" y="725.60" font-size="15.3" text-anchor="start" textLength="89.1" lengthAdjust="spacingAndGlyphs" fill="#000" stroke="#000" stroke-width="0.18">C. appendicis</text>
<polygon points="336.00,718.80 336.74,720.78 338.85,720.87 337.20,722.19 337.76,724.23 336.00,723.06 334.24,724.23 334.80,722.19 333.15,720.87 335.26,720.78" fill="#111"/>
<text x="228.00" y="738.60" font-size="15.3" text-anchor="start" textLength="85.9" lengthAdjust="spacingAndGlyphs" fill="#000" stroke="#000" stroke-width="0.18">C. genitalium</text>
<polygon points="323.80,731.80 324.54,733.78 326.65,733.87 325.00,735.19 325.56,737.23 323.80,736.06 322.04,737.23 322.60,735.19 320.95,733.87 323.06,733.78" fill="#111"/>
<text x="224.30" y="751.60" font-size="15.3" text-anchor="start" textLength="97.0" lengthAdjust="spacingAndGlyphs" fill="#000" stroke="#000" stroke-width="0.18">C. tuscaniense</text>
<polygon points="328.80,744.80 329.54,746.78 331.65,746.87 330.00,748.19 330.56,750.23 328.80,749.06 327.04,750.23 327.60,748.19 325.95,746.87 328.06,746.78" fill="#111"/>
<text x="233.10" y="764.60" font-size="15.3" text-anchor="start" textLength="60.7" lengthAdjust="spacingAndGlyphs" fill="#000" stroke="#000" stroke-width="0.18">C. riegelii</text>
<polygon points="304.60,757.80 305.34,759.78 307.45,759.87 305.80,761.19 306.36,763.23 304.60,762.06 302.84,763.23 303.40,761.19 301.75,759.87 303.86,759.78" fill="#111"/>
<text x="235.00" y="777.60" font-size="15.3" text-anchor="start" textLength="70.0" lengthAdjust="spacingAndGlyphs" fill="#000" stroke="#000" stroke-width="0.18">C. coyleae</text>
<polygon points="311.80,770.80 312.54,772.78 314.65,772.87 313.00,774.19 313.56,776.23 311.80,775.06 310.04,776.23 310.60,774.19 308.95,772.87 311.06,772.78" fill="#111"/>
<text x="247.40" y="790.60" font-size="15.3" text-anchor="start" textLength="97.1" lengthAdjust="spacingAndGlyphs" fill="#000" stroke="#000" stroke-width="0.18">C. jeddahense</text>
<polygon points="350.50,783.80 351.24,785.78 353.35,785.87 351.70,787.19 352.26,789.23 350.50,788.06 348.74,789.23 349.30,787.19 347.65,785.87 349.76,785.78" fill="#111"/>
<text x="263.40" y="803.60" font-size="15.3" text-anchor="start" textLength="116.0" lengthAdjust="spacingAndGlyphs" fill="#000" stroke="#000" stroke-width="0.18">C. lipophiloflavum</text>
<polygon points="386.50,796.80 387.24,798.78 389.35,798.87 387.70,800.19 388.26,802.23 386.50,801.06 384.74,802.23 385.30,800.19 383.65,798.87 385.76,798.78" fill="#111"/>
<text x="266.50" y="816.60" font-size="15.3" text-anchor="start" textLength="66.3" lengthAdjust="spacingAndGlyphs" fill="#000" stroke="#000" stroke-width="0.18">C. imitans</text>
<polygon points="339.60,809.80 340.34,811.78 342.45,811.87 340.80,813.19 341.36,815.23 339.60,814.06 337.84,815.23 338.40,813.19 336.75,811.87 338.86,811.78" fill="#111"/>
<text x="186.80" y="829.60" font-size="15.3" text-anchor="start" textLength="111.0" lengthAdjust="spacingAndGlyphs" fill="#000" stroke="#000" stroke-width="0.18">C. humireducens</text>
<text x="210.70" y="842.60" font-size="15.3" text-anchor="start" textLength="66.3" lengthAdjust="spacingAndGlyphs" fill="#000" stroke="#000" stroke-width="0.18">C. faecale</text>
<text x="199.00" y="855.60" font-size="15.3" text-anchor="start" textLength="97.0" lengthAdjust="spacingAndGlyphs" fill="#000" stroke="#000" stroke-width="0.18">C. vitaeruminis</text>
<text x="237.60" y="868.60" font-size="15.3" text-anchor="start" textLength="59.4" lengthAdjust="spacingAndGlyphs" fill="#000" stroke="#000" stroke-width="0.18">C. renale</text>
<text x="275.50" y="881.60" font-size="15.3" text-anchor="start" textLength="60.4" lengthAdjust="spacingAndGlyphs" fill="#000" stroke="#000" stroke-width="0.18">C. durum</text>
<polygon points="345.30,874.80 346.04,876.78 348.15,876.87 346.50,878.19 347.06,880.23 345.30,879.06 343.54,880.23 344.10,878.19 342.45,876.87 344.56,876.78" fill="#111"/>
<text x="262.50" y="894.60" font-size="15.3" text-anchor="start" textLength="92.7" lengthAdjust="spacingAndGlyphs" fill="#000" stroke="#000" stroke-width="0.18">C. matruchotii</text>
<polygon points="361.70,887.80 362.44,889.78 364.55,889.87 362.90,891.19 363.46,893.23 361.70,892.06 359.94,893.23 360.50,891.19 358.85,889.87 360.96,889.78" fill="#111"/>
<text x="291.40" y="907.60" font-size="15.3" text-anchor="start" textLength="138.4" lengthAdjust="spacingAndGlyphs" fill="#000" stroke="#000" stroke-width="0.18">C. pyruviciproducens</text>
<polygon points="435.10,900.80 435.84,902.78 437.95,902.87 436.30,904.19 436.86,906.23 435.10,905.06 433.34,906.23 433.90,904.19 432.25,902.87 434.36,902.78" fill="#111"/>
<text x="289.80" y="920.60" font-size="15.3" text-anchor="start" textLength="130.1" lengthAdjust="spacingAndGlyphs" fill="#000" stroke="#000" stroke-width="0.18">C. glucuronolyticum</text>
<polygon points="425.70,913.80 426.44,915.78 428.55,915.87 426.90,917.19 427.46,919.23 425.70,918.06 423.94,919.23 424.50,917.19 422.85,915.87 424.96,915.78" fill="#111"/>
<text x="169.60" y="933.60" font-size="15.3" text-anchor="start" textLength="277.3" lengthAdjust="spacingAndGlyphs" fill="#000" stroke="#000" stroke-width="0.18">TC1 C. variabil-glyciniphilum-provencense</text>
<text x="221.60" y="946.60" font-size="15.3" text-anchor="start" textLength="111.2" lengthAdjust="spacingAndGlyphs" fill="#000" stroke="#000" stroke-width="0.18">C. kroppenstedtii</text>
<polygon points="338.50,939.80 339.24,941.78 341.35,941.87 339.70,943.19 340.26,945.23 338.50,944.06 336.74,945.23 337.30,943.19 335.65,941.87 337.76,941.78" fill="#111"/>
<text x="208.20" y="959.60" font-size="15.3" text-anchor="start" textLength="100.4" lengthAdjust="spacingAndGlyphs" fill="#000" stroke="#000" stroke-width="0.18">C. amycolatum</text>
<polygon points="316.20,952.80 316.94,954.78 319.05,954.87 317.40,956.19 317.96,958.23 316.20,957.06 314.44,958.23 315.00,956.19 313.35,954.87 315.46,954.78" fill="#111"/>
<text x="204.50" y="972.60" font-size="15.3" text-anchor="start" textLength="63.7" lengthAdjust="spacingAndGlyphs" fill="#000" stroke="#000" stroke-width="0.18">C. freneyi</text>
<polygon points="279.10,965.80 279.84,967.78 281.95,967.87 280.30,969.19 280.86,971.23 279.10,970.06 277.34,971.23 277.90,969.19 276.25,967.87 278.36,967.78" fill="#111"/>
<text x="204.50" y="985.60" font-size="15.3" text-anchor="start" textLength="65.3" lengthAdjust="spacingAndGlyphs" fill="#000" stroke="#000" stroke-width="0.18">C. xerosis</text>
<polygon points="279.10,978.80 279.84,980.78 281.95,980.87 280.30,982.19 280.86,984.23 279.10,983.06 277.34,984.23 277.90,982.19 276.25,980.87 278.36,980.78" fill="#111"/>
<text x="151.00" y="998.60" font-size="15.3" text-anchor="start" textLength="86.1" lengthAdjust="spacingAndGlyphs" fill="#000" stroke="#000" stroke-width="0.18">C. auriscanis</text>
<text x="146.90" y="1011.60" font-size="15.3" text-anchor="start" textLength="79.4" lengthAdjust="spacingAndGlyphs" fill="#000" stroke="#000" stroke-width="0.18">C. resistens</text>
<polygon points="232.40,1004.80 233.14,1006.78 235.25,1006.87 233.60,1008.19 234.16,1010.23 232.40,1009.06 230.64,1010.23 231.20,1008.19 229.55,1006.87 231.66,1006.78" fill="#111"/>
<text x="117.40" y="1024.60" font-size="15.3" text-anchor="start" textLength="73.1" lengthAdjust="spacingAndGlyphs" fill="#000" stroke="#000" stroke-width="0.18">C. jeikeium</text>
<polygon points="200.40,1017.80 201.14,1019.78 203.25,1019.87 201.60,1021.19 202.16,1023.23 200.40,1022.06 198.64,1023.23 199.20,1021.19 197.55,1019.87 199.66,1019.78" fill="#111"/>
<text x="105.00" y="1037.60" font-size="15.3" text-anchor="start" textLength="94.8" lengthAdjust="spacingAndGlyphs" fill="#000" stroke="#000" stroke-width="0.18">C. urealyticum</text>
<polygon points="208.20,1030.80 208.94,1032.78 211.05,1032.87 209.40,1034.19 209.96,1036.23 208.20,1035.06 206.44,1036.23 207.00,1034.19 205.35,1032.87 207.46,1032.78" fill="#111"/>
<text x="88.00" y="1050.60" font-size="15.3" text-anchor="start" textLength="169.4" lengthAdjust="spacingAndGlyphs" fill="#000" stroke="#000" stroke-width="0.18">Haemophilus massiliensis</text>
<rect x="574.2" y="572.2" width="5.6" height="11.6" fill="#cf4127"/>
<rect x="573.2" y="585.2" width="1" height="11.6" fill="#426b75"/>
<rect x="574.2" y="598.2" width="4.5" height="11.6" fill="#cf4127"/>
<rect x="570.2" y="611.2" width="4" height="11.6" fill="#426b75"/>
<rect x="574.2" y="611.2" width="17.8" height="11.6" fill="#cf4127"/>
<rect x="556.2" y="624.2" width="18" height="11.6" fill="#426b75"/>
<rect x="574.2" y="624.2" width="62.1" height="11.6" fill="#cf4127"/>
<rect x="574.2" y="650.2" width="1.2" height="11.6" fill="#cf4127"/>
<rect x="572.9" y="754.2" width="1.3" height="11.6" fill="#426b75"/>
<rect x="574.2" y="819.2" width="4.5" height="11.6" fill="#cf4127"/>
<rect x="574.2" y="858.2" width="5" height="11.6" fill="#cf4127"/>
<rect x="531.2" y="936.2" width="43" height="11.6" fill="#426b75"/>
<rect x="574.2" y="936.2" width="23.8" height="11.6" fill="#cf4127"/>
<rect x="574.2" y="949.2" width="1" height="11.6" fill="#cf4127"/>
<rect x="574.2" y="1014.2" width="17.0" height="11.6" fill="#cf4127"/>
<polygon points="352.70,985.20 353.44,987.18 355.55,987.27 353.90,988.59 354.46,990.63 352.70,989.46 350.94,990.63 351.50,988.59 349.85,987.27 351.96,987.18" fill="#111"/>
<text x="359.80" y="990.40" font-size="13.3" text-anchor="start" textLength="109.2" lengthAdjust="spacingAndGlyphs" fill="#111" >= human associated</text>
<rect x="316.8" y="1013.4" width="39.2" height="6.0" fill="#bdbdbd" stroke="#555" stroke-width="0.9"/>
<text x="359.80" y="1020.20" font-size="13.3" text-anchor="start" textLength="154.8" lengthAdjust="spacingAndGlyphs" fill="#111" >= 10% abundance in sample</text>
<path d="M278.3 1043.7 H356 M278.3 1039.9 V1047.6 M356 1039.9 V1047.6" stroke="#333" stroke-width="1.4"/>
<text x="359.80" y="1047.60" font-size="13.3" text-anchor="start" textLength="172.4" lengthAdjust="spacingAndGlyphs" fill="#111" >= .1 nucleotide substitutions/site</text>
</svg></body></html>
